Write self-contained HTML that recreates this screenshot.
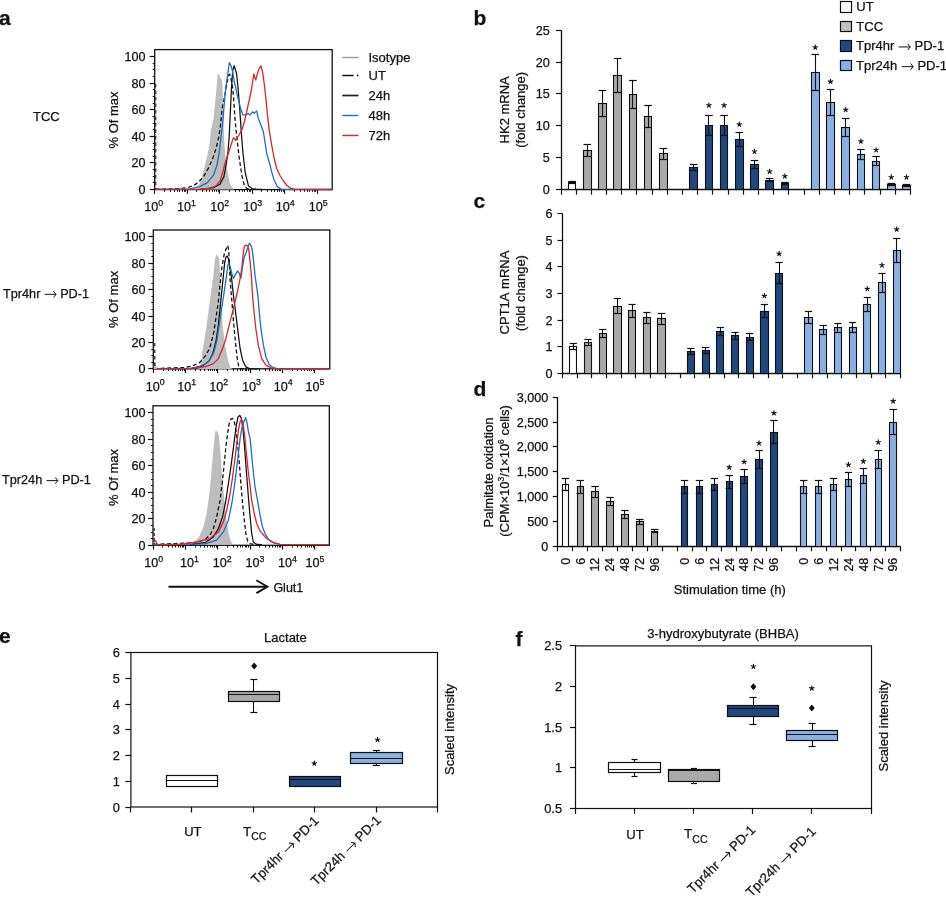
<!DOCTYPE html>
<html><head><meta charset="utf-8"><style>
html,body{margin:0;padding:0;background:#fff;width:946px;height:899px;overflow:hidden}
svg{display:block;will-change:transform}
text{font-family:"Liberation Sans", sans-serif;font-kerning:none;stroke:#111;stroke-width:0.25px;paint-order:stroke}
</style></head><body>
<svg width="946" height="899" viewBox="0 0 946 899" font-family='"Liberation Sans", sans-serif'>
<text x="-1.00" y="25.30" font-size="21" text-anchor="start" font-weight="bold" fill="#111">a</text>
<text x="473.50" y="25.30" font-size="21" text-anchor="start" font-weight="bold" fill="#111">b</text>
<text x="473.50" y="207.50" font-size="21" text-anchor="start" font-weight="bold" fill="#111">c</text>
<text x="473.50" y="396.30" font-size="21" text-anchor="start" font-weight="bold" fill="#111">d</text>
<text x="-1.00" y="643.30" font-size="21" text-anchor="start" font-weight="bold" fill="#111">e</text>
<text x="515.50" y="645.50" font-size="21" text-anchor="start" font-weight="bold" fill="#111">f</text>
<line x1="561.50" y1="30.10" x2="561.50" y2="190.20" stroke="#111" stroke-width="1.3"/>
<line x1="556.00" y1="189.50" x2="561.00" y2="189.50" stroke="#111" stroke-width="1.2"/>
<text x="549.80" y="194.10" font-size="12.6" text-anchor="end" fill="#111">0</text>
<line x1="556.00" y1="157.50" x2="561.00" y2="157.50" stroke="#111" stroke-width="1.2"/>
<text x="549.80" y="162.20" font-size="12.6" text-anchor="end" fill="#111">5</text>
<line x1="556.00" y1="125.50" x2="561.00" y2="125.50" stroke="#111" stroke-width="1.2"/>
<text x="549.80" y="130.30" font-size="12.6" text-anchor="end" fill="#111">10</text>
<line x1="556.00" y1="93.50" x2="561.00" y2="93.50" stroke="#111" stroke-width="1.2"/>
<text x="549.80" y="98.40" font-size="12.6" text-anchor="end" fill="#111">15</text>
<line x1="556.00" y1="62.50" x2="561.00" y2="62.50" stroke="#111" stroke-width="1.2"/>
<text x="549.80" y="66.50" font-size="12.6" text-anchor="end" fill="#111">20</text>
<line x1="556.00" y1="30.50" x2="561.00" y2="30.50" stroke="#111" stroke-width="1.2"/>
<text x="549.80" y="34.60" font-size="12.6" text-anchor="end" fill="#111">25</text>
<line x1="561.00" y1="189.50" x2="910.50" y2="189.50" stroke="#111" stroke-width="1.3"/>
<line x1="561.50" y1="189.60" x2="561.50" y2="194.60" stroke="#111" stroke-width="1.2"/>
<line x1="576.50" y1="189.60" x2="576.50" y2="194.60" stroke="#111" stroke-width="1.2"/>
<line x1="591.50" y1="189.60" x2="591.50" y2="194.60" stroke="#111" stroke-width="1.2"/>
<line x1="606.50" y1="189.60" x2="606.50" y2="194.60" stroke="#111" stroke-width="1.2"/>
<line x1="621.50" y1="189.60" x2="621.50" y2="194.60" stroke="#111" stroke-width="1.2"/>
<line x1="636.50" y1="189.60" x2="636.50" y2="194.60" stroke="#111" stroke-width="1.2"/>
<line x1="652.50" y1="189.60" x2="652.50" y2="194.60" stroke="#111" stroke-width="1.2"/>
<line x1="667.50" y1="189.60" x2="667.50" y2="194.60" stroke="#111" stroke-width="1.2"/>
<line x1="682.50" y1="189.60" x2="682.50" y2="194.60" stroke="#111" stroke-width="1.2"/>
<line x1="697.50" y1="189.60" x2="697.50" y2="194.60" stroke="#111" stroke-width="1.2"/>
<line x1="712.50" y1="189.60" x2="712.50" y2="194.60" stroke="#111" stroke-width="1.2"/>
<line x1="728.50" y1="189.60" x2="728.50" y2="194.60" stroke="#111" stroke-width="1.2"/>
<line x1="743.50" y1="189.60" x2="743.50" y2="194.60" stroke="#111" stroke-width="1.2"/>
<line x1="758.50" y1="189.60" x2="758.50" y2="194.60" stroke="#111" stroke-width="1.2"/>
<line x1="773.50" y1="189.60" x2="773.50" y2="194.60" stroke="#111" stroke-width="1.2"/>
<line x1="788.50" y1="189.60" x2="788.50" y2="194.60" stroke="#111" stroke-width="1.2"/>
<line x1="804.50" y1="189.60" x2="804.50" y2="194.60" stroke="#111" stroke-width="1.2"/>
<line x1="819.50" y1="189.60" x2="819.50" y2="194.60" stroke="#111" stroke-width="1.2"/>
<line x1="834.50" y1="189.60" x2="834.50" y2="194.60" stroke="#111" stroke-width="1.2"/>
<line x1="849.50" y1="189.60" x2="849.50" y2="194.60" stroke="#111" stroke-width="1.2"/>
<line x1="864.50" y1="189.60" x2="864.50" y2="194.60" stroke="#111" stroke-width="1.2"/>
<line x1="880.50" y1="189.60" x2="880.50" y2="194.60" stroke="#111" stroke-width="1.2"/>
<line x1="895.50" y1="189.60" x2="895.50" y2="194.60" stroke="#111" stroke-width="1.2"/>
<line x1="910.50" y1="189.60" x2="910.50" y2="194.60" stroke="#111" stroke-width="1.2"/>
<rect x="568.50" y="182.50" width="7.00" height="7.00" fill="#ffffff" stroke="#111" stroke-width="1.1"/>
<line x1="572.50" y1="181.60" x2="572.50" y2="183.60" stroke="#111" stroke-width="1.1"/>
<line x1="568.30" y1="181.50" x2="575.90" y2="181.50" stroke="#111" stroke-width="1.2"/>
<line x1="568.30" y1="183.50" x2="575.90" y2="183.50" stroke="#111" stroke-width="1.2"/>
<rect x="583.50" y="150.50" width="8.00" height="39.00" fill="#a9a9a9" stroke="#111" stroke-width="1.1"/>
<line x1="587.50" y1="144.40" x2="587.50" y2="156.60" stroke="#111" stroke-width="1.1"/>
<line x1="583.50" y1="144.50" x2="591.10" y2="144.50" stroke="#111" stroke-width="1.2"/>
<line x1="583.50" y1="156.50" x2="591.10" y2="156.50" stroke="#111" stroke-width="1.2"/>
<rect x="598.50" y="103.50" width="8.00" height="86.00" fill="#a9a9a9" stroke="#111" stroke-width="1.1"/>
<line x1="602.50" y1="90.20" x2="602.50" y2="116.40" stroke="#111" stroke-width="1.1"/>
<line x1="598.70" y1="90.50" x2="606.30" y2="90.50" stroke="#111" stroke-width="1.2"/>
<line x1="598.70" y1="116.50" x2="606.30" y2="116.50" stroke="#111" stroke-width="1.2"/>
<rect x="613.50" y="75.50" width="8.00" height="114.00" fill="#a9a9a9" stroke="#111" stroke-width="1.1"/>
<line x1="617.50" y1="58.50" x2="617.50" y2="92.50" stroke="#111" stroke-width="1.1"/>
<line x1="613.90" y1="58.50" x2="621.50" y2="58.50" stroke="#111" stroke-width="1.2"/>
<line x1="613.90" y1="92.50" x2="621.50" y2="92.50" stroke="#111" stroke-width="1.2"/>
<rect x="629.50" y="94.50" width="7.00" height="95.00" fill="#a9a9a9" stroke="#111" stroke-width="1.1"/>
<line x1="632.50" y1="80.20" x2="632.50" y2="108.20" stroke="#111" stroke-width="1.1"/>
<line x1="629.10" y1="80.50" x2="636.70" y2="80.50" stroke="#111" stroke-width="1.2"/>
<line x1="629.10" y1="108.50" x2="636.70" y2="108.50" stroke="#111" stroke-width="1.2"/>
<rect x="644.50" y="116.50" width="7.00" height="73.00" fill="#a9a9a9" stroke="#111" stroke-width="1.1"/>
<line x1="648.50" y1="105.30" x2="648.50" y2="127.30" stroke="#111" stroke-width="1.1"/>
<line x1="644.30" y1="105.50" x2="651.90" y2="105.50" stroke="#111" stroke-width="1.2"/>
<line x1="644.30" y1="127.50" x2="651.90" y2="127.50" stroke="#111" stroke-width="1.2"/>
<rect x="659.50" y="153.50" width="8.00" height="36.00" fill="#a9a9a9" stroke="#111" stroke-width="1.1"/>
<line x1="663.50" y1="148.70" x2="663.50" y2="159.10" stroke="#111" stroke-width="1.1"/>
<line x1="659.50" y1="148.50" x2="667.10" y2="148.50" stroke="#111" stroke-width="1.2"/>
<line x1="659.50" y1="159.50" x2="667.10" y2="159.50" stroke="#111" stroke-width="1.2"/>
<rect x="689.50" y="167.50" width="8.00" height="22.00" fill="#21477e" stroke="#111" stroke-width="1.1"/>
<line x1="693.50" y1="164.50" x2="693.50" y2="170.90" stroke="#111" stroke-width="1.1"/>
<line x1="689.90" y1="164.50" x2="697.50" y2="164.50" stroke="#111" stroke-width="1.2"/>
<line x1="689.90" y1="170.50" x2="697.50" y2="170.50" stroke="#111" stroke-width="1.2"/>
<rect x="705.50" y="125.50" width="7.00" height="64.00" fill="#21477e" stroke="#111" stroke-width="1.1"/>
<line x1="708.50" y1="115.50" x2="708.50" y2="135.30" stroke="#111" stroke-width="1.1"/>
<line x1="705.10" y1="115.50" x2="712.70" y2="115.50" stroke="#111" stroke-width="1.2"/>
<line x1="705.10" y1="135.50" x2="712.70" y2="135.50" stroke="#111" stroke-width="1.2"/>
<path d="M708.90,105.30L708.90,103.00M708.90,105.30L711.09,104.59M708.90,105.30L710.25,107.16M708.90,105.30L707.55,107.16M708.90,105.30L706.71,104.59" stroke="#111" stroke-width="1.15" stroke-linecap="round" fill="none"/>
<rect x="720.50" y="125.50" width="7.00" height="64.00" fill="#21477e" stroke="#111" stroke-width="1.1"/>
<line x1="724.50" y1="115.50" x2="724.50" y2="135.30" stroke="#111" stroke-width="1.1"/>
<line x1="720.30" y1="115.50" x2="727.90" y2="115.50" stroke="#111" stroke-width="1.2"/>
<line x1="720.30" y1="135.50" x2="727.90" y2="135.50" stroke="#111" stroke-width="1.2"/>
<path d="M724.10,105.30L724.10,103.00M724.10,105.30L726.29,104.59M724.10,105.30L725.45,107.16M724.10,105.30L722.75,107.16M724.10,105.30L721.91,104.59" stroke="#111" stroke-width="1.15" stroke-linecap="round" fill="none"/>
<rect x="735.50" y="139.50" width="8.00" height="50.00" fill="#21477e" stroke="#111" stroke-width="1.1"/>
<line x1="739.50" y1="132.40" x2="739.50" y2="146.40" stroke="#111" stroke-width="1.1"/>
<line x1="735.50" y1="132.50" x2="743.10" y2="132.50" stroke="#111" stroke-width="1.2"/>
<line x1="735.50" y1="146.50" x2="743.10" y2="146.50" stroke="#111" stroke-width="1.2"/>
<path d="M739.30,124.40L739.30,122.10M739.30,124.40L741.49,123.69M739.30,124.40L740.65,126.26M739.30,124.40L737.95,126.26M739.30,124.40L737.11,123.69" stroke="#111" stroke-width="1.15" stroke-linecap="round" fill="none"/>
<rect x="750.50" y="164.50" width="8.00" height="25.00" fill="#21477e" stroke="#111" stroke-width="1.1"/>
<line x1="754.50" y1="160.50" x2="754.50" y2="168.50" stroke="#111" stroke-width="1.1"/>
<line x1="750.70" y1="160.50" x2="758.30" y2="160.50" stroke="#111" stroke-width="1.2"/>
<line x1="750.70" y1="168.50" x2="758.30" y2="168.50" stroke="#111" stroke-width="1.2"/>
<path d="M754.50,151.50L754.50,149.20M754.50,151.50L756.69,150.79M754.50,151.50L755.85,153.36M754.50,151.50L753.15,153.36M754.50,151.50L752.31,150.79" stroke="#111" stroke-width="1.15" stroke-linecap="round" fill="none"/>
<rect x="765.50" y="180.50" width="8.00" height="9.00" fill="#21477e" stroke="#111" stroke-width="1.1"/>
<line x1="769.50" y1="178.50" x2="769.50" y2="181.90" stroke="#111" stroke-width="1.1"/>
<line x1="765.90" y1="178.50" x2="773.50" y2="178.50" stroke="#111" stroke-width="1.2"/>
<line x1="765.90" y1="181.50" x2="773.50" y2="181.50" stroke="#111" stroke-width="1.2"/>
<path d="M769.70,171.50L769.70,169.20M769.70,171.50L771.89,170.79M769.70,171.50L771.05,173.36M769.70,171.50L768.35,173.36M769.70,171.50L767.51,170.79" stroke="#111" stroke-width="1.15" stroke-linecap="round" fill="none"/>
<rect x="781.50" y="183.50" width="7.00" height="6.00" fill="#21477e" stroke="#111" stroke-width="1.1"/>
<line x1="784.50" y1="182.80" x2="784.50" y2="184.80" stroke="#111" stroke-width="1.1"/>
<line x1="781.10" y1="182.50" x2="788.70" y2="182.50" stroke="#111" stroke-width="1.2"/>
<line x1="781.10" y1="184.50" x2="788.70" y2="184.50" stroke="#111" stroke-width="1.2"/>
<path d="M784.90,176.20L784.90,173.90M784.90,176.20L787.09,175.49M784.90,176.20L786.25,178.06M784.90,176.20L783.55,178.06M784.90,176.20L782.71,175.49" stroke="#111" stroke-width="1.15" stroke-linecap="round" fill="none"/>
<rect x="811.50" y="72.50" width="8.00" height="117.00" fill="#8bb0e3" stroke="#111" stroke-width="1.1"/>
<line x1="815.50" y1="54.70" x2="815.50" y2="90.30" stroke="#111" stroke-width="1.1"/>
<line x1="811.50" y1="54.50" x2="819.10" y2="54.50" stroke="#111" stroke-width="1.2"/>
<line x1="811.50" y1="90.50" x2="819.10" y2="90.50" stroke="#111" stroke-width="1.2"/>
<path d="M815.30,47.40L815.30,45.10M815.30,47.40L817.49,46.69M815.30,47.40L816.65,49.26M815.30,47.40L813.95,49.26M815.30,47.40L813.11,46.69" stroke="#111" stroke-width="1.15" stroke-linecap="round" fill="none"/>
<rect x="826.50" y="102.50" width="8.00" height="87.00" fill="#8bb0e3" stroke="#111" stroke-width="1.1"/>
<line x1="830.50" y1="89.20" x2="830.50" y2="115.40" stroke="#111" stroke-width="1.1"/>
<line x1="826.70" y1="89.50" x2="834.30" y2="89.50" stroke="#111" stroke-width="1.2"/>
<line x1="826.70" y1="115.50" x2="834.30" y2="115.50" stroke="#111" stroke-width="1.2"/>
<path d="M830.50,81.60L830.50,79.30M830.50,81.60L832.69,80.89M830.50,81.60L831.85,83.46M830.50,81.60L829.15,83.46M830.50,81.60L828.31,80.89" stroke="#111" stroke-width="1.15" stroke-linecap="round" fill="none"/>
<rect x="841.50" y="127.50" width="8.00" height="62.00" fill="#8bb0e3" stroke="#111" stroke-width="1.1"/>
<line x1="845.50" y1="118.30" x2="845.50" y2="136.90" stroke="#111" stroke-width="1.1"/>
<line x1="841.90" y1="118.50" x2="849.50" y2="118.50" stroke="#111" stroke-width="1.2"/>
<line x1="841.90" y1="136.50" x2="849.50" y2="136.50" stroke="#111" stroke-width="1.2"/>
<path d="M845.70,109.70L845.70,107.40M845.70,109.70L847.89,108.99M845.70,109.70L847.05,111.56M845.70,109.70L844.35,111.56M845.70,109.70L843.51,108.99" stroke="#111" stroke-width="1.15" stroke-linecap="round" fill="none"/>
<rect x="857.50" y="154.50" width="7.00" height="35.00" fill="#8bb0e3" stroke="#111" stroke-width="1.1"/>
<line x1="860.50" y1="149.50" x2="860.50" y2="159.50" stroke="#111" stroke-width="1.1"/>
<line x1="857.10" y1="149.50" x2="864.70" y2="149.50" stroke="#111" stroke-width="1.2"/>
<line x1="857.10" y1="159.50" x2="864.70" y2="159.50" stroke="#111" stroke-width="1.2"/>
<path d="M860.90,141.40L860.90,139.10M860.90,141.40L863.09,140.69M860.90,141.40L862.25,143.26M860.90,141.40L859.55,143.26M860.90,141.40L858.71,140.69" stroke="#111" stroke-width="1.15" stroke-linecap="round" fill="none"/>
<rect x="872.50" y="161.50" width="7.00" height="28.00" fill="#8bb0e3" stroke="#111" stroke-width="1.1"/>
<line x1="876.50" y1="156.50" x2="876.50" y2="165.70" stroke="#111" stroke-width="1.1"/>
<line x1="872.30" y1="156.50" x2="879.90" y2="156.50" stroke="#111" stroke-width="1.2"/>
<line x1="872.30" y1="165.50" x2="879.90" y2="165.50" stroke="#111" stroke-width="1.2"/>
<path d="M876.10,150.00L876.10,147.70M876.10,150.00L878.29,149.29M876.10,150.00L877.45,151.86M876.10,150.00L874.75,151.86M876.10,150.00L873.91,149.29" stroke="#111" stroke-width="1.15" stroke-linecap="round" fill="none"/>
<rect x="887.50" y="184.50" width="8.00" height="5.00" fill="#8bb0e3" stroke="#111" stroke-width="1.1"/>
<line x1="891.50" y1="183.60" x2="891.50" y2="185.60" stroke="#111" stroke-width="1.1"/>
<line x1="887.50" y1="183.50" x2="895.10" y2="183.50" stroke="#111" stroke-width="1.2"/>
<line x1="887.50" y1="185.50" x2="895.10" y2="185.50" stroke="#111" stroke-width="1.2"/>
<path d="M891.30,177.20L891.30,174.90M891.30,177.20L893.49,176.49M891.30,177.20L892.65,179.06M891.30,177.20L889.95,179.06M891.30,177.20L889.11,176.49" stroke="#111" stroke-width="1.15" stroke-linecap="round" fill="none"/>
<rect x="902.50" y="185.50" width="8.00" height="4.00" fill="#8bb0e3" stroke="#111" stroke-width="1.1"/>
<line x1="906.50" y1="184.60" x2="906.50" y2="186.60" stroke="#111" stroke-width="1.1"/>
<line x1="902.70" y1="184.50" x2="910.30" y2="184.50" stroke="#111" stroke-width="1.2"/>
<line x1="902.70" y1="186.50" x2="910.30" y2="186.50" stroke="#111" stroke-width="1.2"/>
<path d="M906.50,177.20L906.50,174.90M906.50,177.20L908.69,176.49M906.50,177.20L907.85,179.06M906.50,177.20L905.15,179.06M906.50,177.20L904.31,176.49" stroke="#111" stroke-width="1.15" stroke-linecap="round" fill="none"/>
<text transform="translate(508.6,109.8) rotate(-90)" font-size="13" text-anchor="middle" fill="#111">HK2 mRNA</text>
<text transform="translate(524.6,109.8) rotate(-90)" font-size="13" text-anchor="middle" fill="#111">(fold change)</text>
<rect x="840.50" y="1.50" width="11.00" height="11.00" fill="#ffffff" stroke="#111" stroke-width="1.2"/>
<text x="856.30" y="11.20" font-size="13" text-anchor="start" fill="#111">UT</text>
<rect x="840.50" y="21.50" width="11.00" height="10.00" fill="#c0c0c0" stroke="#111" stroke-width="1.2"/>
<text x="856.30" y="30.80" font-size="13" text-anchor="start" fill="#111">TCC</text>
<rect x="840.50" y="40.50" width="11.00" height="11.00" fill="#21477e" stroke="#111" stroke-width="1.2"/>
<g transform="translate(856.00,50.20)"><text x="0.00" y="0" font-size="13" fill="#111">Tpr4hr</text><path d="M42.72,-3.25H54.25M51.65,-6.44L54.25,-3.25L51.65,-0.06" fill="none" stroke="#111" stroke-width="1.0"/><text x="58.51" y="0" font-size="13" fill="#111">PD-1</text></g>
<rect x="840.50" y="60.50" width="11.00" height="10.00" fill="#8bb0e3" stroke="#111" stroke-width="1.2"/>
<g transform="translate(856.00,69.90)"><text x="0.00" y="0" font-size="13" fill="#111">Tpr24h</text><path d="M45.62,-3.25H57.15M54.55,-6.44L57.15,-3.25L54.55,-0.06" fill="none" stroke="#111" stroke-width="1.0"/><text x="61.41" y="0" font-size="13" fill="#111">PD-1</text></g>
<line x1="562.50" y1="213.60" x2="562.50" y2="373.80" stroke="#111" stroke-width="1.3"/>
<line x1="557.50" y1="373.50" x2="562.50" y2="373.50" stroke="#111" stroke-width="1.2"/>
<text x="552.60" y="377.70" font-size="12.6" text-anchor="end" fill="#111">0</text>
<line x1="557.50" y1="346.50" x2="562.50" y2="346.50" stroke="#111" stroke-width="1.2"/>
<text x="552.60" y="351.10" font-size="12.6" text-anchor="end" fill="#111">1</text>
<line x1="557.50" y1="320.50" x2="562.50" y2="320.50" stroke="#111" stroke-width="1.2"/>
<text x="552.60" y="324.50" font-size="12.6" text-anchor="end" fill="#111">2</text>
<line x1="557.50" y1="293.50" x2="562.50" y2="293.50" stroke="#111" stroke-width="1.2"/>
<text x="552.60" y="297.90" font-size="12.6" text-anchor="end" fill="#111">3</text>
<line x1="557.50" y1="266.50" x2="562.50" y2="266.50" stroke="#111" stroke-width="1.2"/>
<text x="552.60" y="271.30" font-size="12.6" text-anchor="end" fill="#111">4</text>
<line x1="557.50" y1="240.50" x2="562.50" y2="240.50" stroke="#111" stroke-width="1.2"/>
<text x="552.60" y="244.70" font-size="12.6" text-anchor="end" fill="#111">5</text>
<line x1="557.50" y1="213.50" x2="562.50" y2="213.50" stroke="#111" stroke-width="1.2"/>
<text x="552.60" y="218.10" font-size="12.6" text-anchor="end" fill="#111">6</text>
<line x1="562.50" y1="373.50" x2="900.50" y2="373.50" stroke="#111" stroke-width="1.3"/>
<line x1="562.50" y1="373.20" x2="562.50" y2="378.20" stroke="#111" stroke-width="1.2"/>
<line x1="577.50" y1="373.20" x2="577.50" y2="378.20" stroke="#111" stroke-width="1.2"/>
<line x1="591.50" y1="373.20" x2="591.50" y2="378.20" stroke="#111" stroke-width="1.2"/>
<line x1="606.50" y1="373.20" x2="606.50" y2="378.20" stroke="#111" stroke-width="1.2"/>
<line x1="621.50" y1="373.20" x2="621.50" y2="378.20" stroke="#111" stroke-width="1.2"/>
<line x1="635.50" y1="373.20" x2="635.50" y2="378.20" stroke="#111" stroke-width="1.2"/>
<line x1="650.50" y1="373.20" x2="650.50" y2="378.20" stroke="#111" stroke-width="1.2"/>
<line x1="665.50" y1="373.20" x2="665.50" y2="378.20" stroke="#111" stroke-width="1.2"/>
<line x1="680.50" y1="373.20" x2="680.50" y2="378.20" stroke="#111" stroke-width="1.2"/>
<line x1="694.50" y1="373.20" x2="694.50" y2="378.20" stroke="#111" stroke-width="1.2"/>
<line x1="709.50" y1="373.20" x2="709.50" y2="378.20" stroke="#111" stroke-width="1.2"/>
<line x1="724.50" y1="373.20" x2="724.50" y2="378.20" stroke="#111" stroke-width="1.2"/>
<line x1="738.50" y1="373.20" x2="738.50" y2="378.20" stroke="#111" stroke-width="1.2"/>
<line x1="753.50" y1="373.20" x2="753.50" y2="378.20" stroke="#111" stroke-width="1.2"/>
<line x1="768.50" y1="373.20" x2="768.50" y2="378.20" stroke="#111" stroke-width="1.2"/>
<line x1="782.50" y1="373.20" x2="782.50" y2="378.20" stroke="#111" stroke-width="1.2"/>
<line x1="797.50" y1="373.20" x2="797.50" y2="378.20" stroke="#111" stroke-width="1.2"/>
<line x1="812.50" y1="373.20" x2="812.50" y2="378.20" stroke="#111" stroke-width="1.2"/>
<line x1="827.50" y1="373.20" x2="827.50" y2="378.20" stroke="#111" stroke-width="1.2"/>
<line x1="841.50" y1="373.20" x2="841.50" y2="378.20" stroke="#111" stroke-width="1.2"/>
<line x1="856.50" y1="373.20" x2="856.50" y2="378.20" stroke="#111" stroke-width="1.2"/>
<line x1="871.50" y1="373.20" x2="871.50" y2="378.20" stroke="#111" stroke-width="1.2"/>
<line x1="885.50" y1="373.20" x2="885.50" y2="378.20" stroke="#111" stroke-width="1.2"/>
<line x1="900.50" y1="373.20" x2="900.50" y2="378.20" stroke="#111" stroke-width="1.2"/>
<rect x="569.50" y="346.50" width="7.00" height="27.00" fill="#ffffff" stroke="#111" stroke-width="1.1"/>
<line x1="573.50" y1="343.90" x2="573.50" y2="349.10" stroke="#111" stroke-width="1.1"/>
<line x1="569.70" y1="343.50" x2="576.90" y2="343.50" stroke="#111" stroke-width="1.2"/>
<line x1="569.70" y1="349.50" x2="576.90" y2="349.50" stroke="#111" stroke-width="1.2"/>
<rect x="584.50" y="342.50" width="7.00" height="31.00" fill="#a9a9a9" stroke="#111" stroke-width="1.1"/>
<line x1="588.50" y1="339.90" x2="588.50" y2="345.90" stroke="#111" stroke-width="1.1"/>
<line x1="584.40" y1="339.50" x2="591.60" y2="339.50" stroke="#111" stroke-width="1.2"/>
<line x1="584.40" y1="345.50" x2="591.60" y2="345.50" stroke="#111" stroke-width="1.2"/>
<rect x="599.50" y="333.50" width="7.00" height="40.00" fill="#a9a9a9" stroke="#111" stroke-width="1.1"/>
<line x1="602.50" y1="329.10" x2="602.50" y2="337.10" stroke="#111" stroke-width="1.1"/>
<line x1="599.10" y1="329.50" x2="606.30" y2="329.50" stroke="#111" stroke-width="1.2"/>
<line x1="599.10" y1="337.50" x2="606.30" y2="337.50" stroke="#111" stroke-width="1.2"/>
<rect x="613.50" y="306.50" width="8.00" height="67.00" fill="#a9a9a9" stroke="#111" stroke-width="1.1"/>
<line x1="617.50" y1="298.90" x2="617.50" y2="313.10" stroke="#111" stroke-width="1.1"/>
<line x1="613.80" y1="298.50" x2="621.00" y2="298.50" stroke="#111" stroke-width="1.2"/>
<line x1="613.80" y1="313.50" x2="621.00" y2="313.50" stroke="#111" stroke-width="1.2"/>
<rect x="628.50" y="310.50" width="7.00" height="63.00" fill="#a9a9a9" stroke="#111" stroke-width="1.1"/>
<line x1="632.50" y1="304.60" x2="632.50" y2="317.00" stroke="#111" stroke-width="1.1"/>
<line x1="628.50" y1="304.50" x2="635.70" y2="304.50" stroke="#111" stroke-width="1.2"/>
<line x1="628.50" y1="317.50" x2="635.70" y2="317.50" stroke="#111" stroke-width="1.2"/>
<rect x="643.50" y="317.50" width="7.00" height="56.00" fill="#a9a9a9" stroke="#111" stroke-width="1.1"/>
<line x1="646.50" y1="312.40" x2="646.50" y2="323.20" stroke="#111" stroke-width="1.1"/>
<line x1="643.20" y1="312.50" x2="650.40" y2="312.50" stroke="#111" stroke-width="1.2"/>
<line x1="643.20" y1="323.50" x2="650.40" y2="323.50" stroke="#111" stroke-width="1.2"/>
<rect x="657.50" y="318.50" width="8.00" height="55.00" fill="#a9a9a9" stroke="#111" stroke-width="1.1"/>
<line x1="661.50" y1="313.40" x2="661.50" y2="324.20" stroke="#111" stroke-width="1.1"/>
<line x1="657.90" y1="313.50" x2="665.10" y2="313.50" stroke="#111" stroke-width="1.2"/>
<line x1="657.90" y1="324.50" x2="665.10" y2="324.50" stroke="#111" stroke-width="1.2"/>
<rect x="687.50" y="351.50" width="7.00" height="22.00" fill="#21477e" stroke="#111" stroke-width="1.1"/>
<line x1="690.50" y1="348.90" x2="690.50" y2="354.30" stroke="#111" stroke-width="1.1"/>
<line x1="687.30" y1="348.50" x2="694.50" y2="348.50" stroke="#111" stroke-width="1.2"/>
<line x1="687.30" y1="354.50" x2="694.50" y2="354.50" stroke="#111" stroke-width="1.2"/>
<rect x="702.50" y="350.50" width="7.00" height="23.00" fill="#21477e" stroke="#111" stroke-width="1.1"/>
<line x1="705.50" y1="347.90" x2="705.50" y2="353.10" stroke="#111" stroke-width="1.1"/>
<line x1="702.00" y1="347.50" x2="709.20" y2="347.50" stroke="#111" stroke-width="1.2"/>
<line x1="702.00" y1="353.50" x2="709.20" y2="353.50" stroke="#111" stroke-width="1.2"/>
<rect x="716.50" y="331.50" width="7.00" height="42.00" fill="#21477e" stroke="#111" stroke-width="1.1"/>
<line x1="720.50" y1="327.00" x2="720.50" y2="335.20" stroke="#111" stroke-width="1.1"/>
<line x1="716.70" y1="327.50" x2="723.90" y2="327.50" stroke="#111" stroke-width="1.2"/>
<line x1="716.70" y1="335.50" x2="723.90" y2="335.50" stroke="#111" stroke-width="1.2"/>
<rect x="731.50" y="335.50" width="7.00" height="38.00" fill="#21477e" stroke="#111" stroke-width="1.1"/>
<line x1="735.50" y1="332.10" x2="735.50" y2="339.70" stroke="#111" stroke-width="1.1"/>
<line x1="731.40" y1="332.50" x2="738.60" y2="332.50" stroke="#111" stroke-width="1.2"/>
<line x1="731.40" y1="339.50" x2="738.60" y2="339.50" stroke="#111" stroke-width="1.2"/>
<rect x="746.50" y="337.50" width="7.00" height="36.00" fill="#21477e" stroke="#111" stroke-width="1.1"/>
<line x1="749.50" y1="333.50" x2="749.50" y2="340.70" stroke="#111" stroke-width="1.1"/>
<line x1="746.10" y1="333.50" x2="753.30" y2="333.50" stroke="#111" stroke-width="1.2"/>
<line x1="746.10" y1="340.50" x2="753.30" y2="340.50" stroke="#111" stroke-width="1.2"/>
<rect x="760.50" y="311.50" width="8.00" height="62.00" fill="#21477e" stroke="#111" stroke-width="1.1"/>
<line x1="764.50" y1="304.80" x2="764.50" y2="318.00" stroke="#111" stroke-width="1.1"/>
<line x1="760.80" y1="304.50" x2="768.00" y2="304.50" stroke="#111" stroke-width="1.2"/>
<line x1="760.80" y1="317.50" x2="768.00" y2="317.50" stroke="#111" stroke-width="1.2"/>
<path d="M764.40,295.90L764.40,293.60M764.40,295.90L766.59,295.19M764.40,295.90L765.75,297.76M764.40,295.90L763.05,297.76M764.40,295.90L762.21,295.19" stroke="#111" stroke-width="1.15" stroke-linecap="round" fill="none"/>
<rect x="775.50" y="273.50" width="7.00" height="100.00" fill="#21477e" stroke="#111" stroke-width="1.1"/>
<line x1="779.50" y1="262.80" x2="779.50" y2="283.60" stroke="#111" stroke-width="1.1"/>
<line x1="775.50" y1="262.50" x2="782.70" y2="262.50" stroke="#111" stroke-width="1.2"/>
<line x1="775.50" y1="283.50" x2="782.70" y2="283.50" stroke="#111" stroke-width="1.2"/>
<path d="M779.10,253.70L779.10,251.40M779.10,253.70L781.29,252.99M779.10,253.70L780.45,255.56M779.10,253.70L777.75,255.56M779.10,253.70L776.91,252.99" stroke="#111" stroke-width="1.15" stroke-linecap="round" fill="none"/>
<rect x="804.50" y="317.50" width="8.00" height="56.00" fill="#8bb0e3" stroke="#111" stroke-width="1.1"/>
<line x1="808.50" y1="311.80" x2="808.50" y2="323.80" stroke="#111" stroke-width="1.1"/>
<line x1="804.90" y1="311.50" x2="812.10" y2="311.50" stroke="#111" stroke-width="1.2"/>
<line x1="804.90" y1="323.50" x2="812.10" y2="323.50" stroke="#111" stroke-width="1.2"/>
<rect x="819.50" y="329.50" width="7.00" height="44.00" fill="#8bb0e3" stroke="#111" stroke-width="1.1"/>
<line x1="823.50" y1="325.00" x2="823.50" y2="334.40" stroke="#111" stroke-width="1.1"/>
<line x1="819.60" y1="325.50" x2="826.80" y2="325.50" stroke="#111" stroke-width="1.2"/>
<line x1="819.60" y1="334.50" x2="826.80" y2="334.50" stroke="#111" stroke-width="1.2"/>
<rect x="834.50" y="327.50" width="7.00" height="46.00" fill="#8bb0e3" stroke="#111" stroke-width="1.1"/>
<line x1="837.50" y1="323.40" x2="837.50" y2="332.40" stroke="#111" stroke-width="1.1"/>
<line x1="834.30" y1="323.50" x2="841.50" y2="323.50" stroke="#111" stroke-width="1.2"/>
<line x1="834.30" y1="332.50" x2="841.50" y2="332.50" stroke="#111" stroke-width="1.2"/>
<rect x="849.50" y="327.50" width="7.00" height="46.00" fill="#8bb0e3" stroke="#111" stroke-width="1.1"/>
<line x1="852.50" y1="322.80" x2="852.50" y2="333.00" stroke="#111" stroke-width="1.1"/>
<line x1="849.00" y1="322.50" x2="856.20" y2="322.50" stroke="#111" stroke-width="1.2"/>
<line x1="849.00" y1="332.50" x2="856.20" y2="332.50" stroke="#111" stroke-width="1.2"/>
<rect x="863.50" y="304.50" width="7.00" height="69.00" fill="#8bb0e3" stroke="#111" stroke-width="1.1"/>
<line x1="867.50" y1="297.70" x2="867.50" y2="311.90" stroke="#111" stroke-width="1.1"/>
<line x1="863.70" y1="297.50" x2="870.90" y2="297.50" stroke="#111" stroke-width="1.2"/>
<line x1="863.70" y1="311.50" x2="870.90" y2="311.50" stroke="#111" stroke-width="1.2"/>
<path d="M867.30,288.90L867.30,286.60M867.30,288.90L869.49,288.19M867.30,288.90L868.65,290.76M867.30,288.90L865.95,290.76M867.30,288.90L865.11,288.19" stroke="#111" stroke-width="1.15" stroke-linecap="round" fill="none"/>
<rect x="878.50" y="282.50" width="7.00" height="91.00" fill="#8bb0e3" stroke="#111" stroke-width="1.1"/>
<line x1="882.50" y1="273.20" x2="882.50" y2="292.20" stroke="#111" stroke-width="1.1"/>
<line x1="878.40" y1="273.50" x2="885.60" y2="273.50" stroke="#111" stroke-width="1.2"/>
<line x1="878.40" y1="292.50" x2="885.60" y2="292.50" stroke="#111" stroke-width="1.2"/>
<path d="M882.00,265.20L882.00,262.90M882.00,265.20L884.19,264.49M882.00,265.20L883.35,267.06M882.00,265.20L880.65,267.06M882.00,265.20L879.81,264.49" stroke="#111" stroke-width="1.15" stroke-linecap="round" fill="none"/>
<rect x="893.50" y="250.50" width="7.00" height="123.00" fill="#8bb0e3" stroke="#111" stroke-width="1.1"/>
<line x1="896.50" y1="238.50" x2="896.50" y2="262.90" stroke="#111" stroke-width="1.1"/>
<line x1="893.10" y1="238.50" x2="900.30" y2="238.50" stroke="#111" stroke-width="1.2"/>
<line x1="893.10" y1="262.50" x2="900.30" y2="262.50" stroke="#111" stroke-width="1.2"/>
<path d="M896.70,229.40L896.70,227.10M896.70,229.40L898.89,228.69M896.70,229.40L898.05,231.26M896.70,229.40L895.35,231.26M896.70,229.40L894.51,228.69" stroke="#111" stroke-width="1.15" stroke-linecap="round" fill="none"/>
<text transform="translate(508.6,292.5) rotate(-90)" font-size="13" text-anchor="middle" fill="#111">CPT1A mRNA</text>
<text transform="translate(524.6,293) rotate(-90)" font-size="13" text-anchor="middle" fill="#111">(fold change)</text>
<line x1="557.50" y1="397.20" x2="557.50" y2="546.90" stroke="#111" stroke-width="1.3"/>
<line x1="552.70" y1="546.50" x2="557.70" y2="546.50" stroke="#111" stroke-width="1.2"/>
<text x="548.30" y="550.80" font-size="12.6" text-anchor="end" fill="#111">0</text>
<line x1="552.70" y1="521.50" x2="557.70" y2="521.50" stroke="#111" stroke-width="1.2"/>
<text x="548.30" y="525.95" font-size="12.6" text-anchor="end" fill="#111">500</text>
<line x1="552.70" y1="496.50" x2="557.70" y2="496.50" stroke="#111" stroke-width="1.2"/>
<text x="548.30" y="501.10" font-size="12.6" text-anchor="end" fill="#111">1,000</text>
<line x1="552.70" y1="471.50" x2="557.70" y2="471.50" stroke="#111" stroke-width="1.2"/>
<text x="548.30" y="476.25" font-size="12.6" text-anchor="end" fill="#111">1,500</text>
<line x1="552.70" y1="446.50" x2="557.70" y2="446.50" stroke="#111" stroke-width="1.2"/>
<text x="548.30" y="451.40" font-size="12.6" text-anchor="end" fill="#111">2,000</text>
<line x1="552.70" y1="422.50" x2="557.70" y2="422.50" stroke="#111" stroke-width="1.2"/>
<text x="548.30" y="426.55" font-size="12.6" text-anchor="end" fill="#111">2,500</text>
<line x1="552.70" y1="397.50" x2="557.70" y2="397.50" stroke="#111" stroke-width="1.2"/>
<text x="548.30" y="401.70" font-size="12.6" text-anchor="end" fill="#111">3,000</text>
<line x1="557.70" y1="546.50" x2="900.60" y2="546.50" stroke="#111" stroke-width="1.3"/>
<line x1="557.50" y1="546.30" x2="557.50" y2="551.30" stroke="#111" stroke-width="1.2"/>
<line x1="572.50" y1="546.30" x2="572.50" y2="551.30" stroke="#111" stroke-width="1.2"/>
<line x1="587.50" y1="546.30" x2="587.50" y2="551.30" stroke="#111" stroke-width="1.2"/>
<line x1="602.50" y1="546.30" x2="602.50" y2="551.30" stroke="#111" stroke-width="1.2"/>
<line x1="617.50" y1="546.30" x2="617.50" y2="551.30" stroke="#111" stroke-width="1.2"/>
<line x1="632.50" y1="546.30" x2="632.50" y2="551.30" stroke="#111" stroke-width="1.2"/>
<line x1="647.50" y1="546.30" x2="647.50" y2="551.30" stroke="#111" stroke-width="1.2"/>
<line x1="662.50" y1="546.30" x2="662.50" y2="551.30" stroke="#111" stroke-width="1.2"/>
<line x1="677.50" y1="546.30" x2="677.50" y2="551.30" stroke="#111" stroke-width="1.2"/>
<line x1="692.50" y1="546.30" x2="692.50" y2="551.30" stroke="#111" stroke-width="1.2"/>
<line x1="706.50" y1="546.30" x2="706.50" y2="551.30" stroke="#111" stroke-width="1.2"/>
<line x1="721.50" y1="546.30" x2="721.50" y2="551.30" stroke="#111" stroke-width="1.2"/>
<line x1="736.50" y1="546.30" x2="736.50" y2="551.30" stroke="#111" stroke-width="1.2"/>
<line x1="751.50" y1="546.30" x2="751.50" y2="551.30" stroke="#111" stroke-width="1.2"/>
<line x1="766.50" y1="546.30" x2="766.50" y2="551.30" stroke="#111" stroke-width="1.2"/>
<line x1="781.50" y1="546.30" x2="781.50" y2="551.30" stroke="#111" stroke-width="1.2"/>
<line x1="796.50" y1="546.30" x2="796.50" y2="551.30" stroke="#111" stroke-width="1.2"/>
<line x1="811.50" y1="546.30" x2="811.50" y2="551.30" stroke="#111" stroke-width="1.2"/>
<line x1="826.50" y1="546.30" x2="826.50" y2="551.30" stroke="#111" stroke-width="1.2"/>
<line x1="841.50" y1="546.30" x2="841.50" y2="551.30" stroke="#111" stroke-width="1.2"/>
<line x1="855.50" y1="546.30" x2="855.50" y2="551.30" stroke="#111" stroke-width="1.2"/>
<line x1="870.50" y1="546.30" x2="870.50" y2="551.30" stroke="#111" stroke-width="1.2"/>
<line x1="885.50" y1="546.30" x2="885.50" y2="551.30" stroke="#111" stroke-width="1.2"/>
<line x1="900.50" y1="546.30" x2="900.50" y2="551.30" stroke="#111" stroke-width="1.2"/>
<rect x="562.50" y="484.50" width="6.00" height="62.00" fill="#ffffff" stroke="#111" stroke-width="1.1"/>
<line x1="565.50" y1="478.00" x2="565.50" y2="490.80" stroke="#111" stroke-width="1.1"/>
<line x1="561.65" y1="478.50" x2="569.05" y2="478.50" stroke="#111" stroke-width="1.2"/>
<line x1="561.65" y1="490.50" x2="569.05" y2="490.50" stroke="#111" stroke-width="1.2"/>
<rect x="577.50" y="486.50" width="6.00" height="60.00" fill="#a9a9a9" stroke="#111" stroke-width="1.1"/>
<line x1="580.50" y1="480.60" x2="580.50" y2="493.00" stroke="#111" stroke-width="1.1"/>
<line x1="576.55" y1="480.50" x2="583.95" y2="480.50" stroke="#111" stroke-width="1.2"/>
<line x1="576.55" y1="493.50" x2="583.95" y2="493.50" stroke="#111" stroke-width="1.2"/>
<rect x="591.50" y="491.50" width="7.00" height="55.00" fill="#a9a9a9" stroke="#111" stroke-width="1.1"/>
<line x1="595.50" y1="486.40" x2="595.50" y2="497.20" stroke="#111" stroke-width="1.1"/>
<line x1="591.45" y1="486.50" x2="598.85" y2="486.50" stroke="#111" stroke-width="1.2"/>
<line x1="591.45" y1="497.50" x2="598.85" y2="497.50" stroke="#111" stroke-width="1.2"/>
<rect x="606.50" y="501.50" width="7.00" height="45.00" fill="#a9a9a9" stroke="#111" stroke-width="1.1"/>
<line x1="610.50" y1="497.10" x2="610.50" y2="505.90" stroke="#111" stroke-width="1.1"/>
<line x1="606.35" y1="497.50" x2="613.75" y2="497.50" stroke="#111" stroke-width="1.2"/>
<line x1="606.35" y1="505.50" x2="613.75" y2="505.50" stroke="#111" stroke-width="1.2"/>
<rect x="621.50" y="514.50" width="7.00" height="32.00" fill="#a9a9a9" stroke="#111" stroke-width="1.1"/>
<line x1="624.50" y1="510.90" x2="624.50" y2="518.10" stroke="#111" stroke-width="1.1"/>
<line x1="621.25" y1="510.50" x2="628.65" y2="510.50" stroke="#111" stroke-width="1.2"/>
<line x1="621.25" y1="518.50" x2="628.65" y2="518.50" stroke="#111" stroke-width="1.2"/>
<rect x="636.50" y="521.50" width="7.00" height="25.00" fill="#a9a9a9" stroke="#111" stroke-width="1.1"/>
<line x1="639.50" y1="519.00" x2="639.50" y2="524.20" stroke="#111" stroke-width="1.1"/>
<line x1="636.15" y1="519.50" x2="643.55" y2="519.50" stroke="#111" stroke-width="1.2"/>
<line x1="636.15" y1="524.50" x2="643.55" y2="524.50" stroke="#111" stroke-width="1.2"/>
<rect x="651.50" y="531.50" width="6.00" height="15.00" fill="#a9a9a9" stroke="#111" stroke-width="1.1"/>
<line x1="654.50" y1="529.60" x2="654.50" y2="532.40" stroke="#111" stroke-width="1.1"/>
<line x1="651.05" y1="529.50" x2="658.45" y2="529.50" stroke="#111" stroke-width="1.2"/>
<line x1="651.05" y1="532.50" x2="658.45" y2="532.50" stroke="#111" stroke-width="1.2"/>
<rect x="681.50" y="486.50" width="6.00" height="60.00" fill="#21477e" stroke="#111" stroke-width="1.1"/>
<line x1="684.50" y1="480.60" x2="684.50" y2="493.00" stroke="#111" stroke-width="1.1"/>
<line x1="680.85" y1="480.50" x2="688.25" y2="480.50" stroke="#111" stroke-width="1.2"/>
<line x1="680.85" y1="493.50" x2="688.25" y2="493.50" stroke="#111" stroke-width="1.2"/>
<rect x="696.50" y="486.50" width="6.00" height="60.00" fill="#21477e" stroke="#111" stroke-width="1.1"/>
<line x1="699.50" y1="480.60" x2="699.50" y2="493.00" stroke="#111" stroke-width="1.1"/>
<line x1="695.75" y1="480.50" x2="703.15" y2="480.50" stroke="#111" stroke-width="1.2"/>
<line x1="695.75" y1="493.50" x2="703.15" y2="493.50" stroke="#111" stroke-width="1.2"/>
<rect x="711.50" y="484.50" width="6.00" height="62.00" fill="#21477e" stroke="#111" stroke-width="1.1"/>
<line x1="714.50" y1="478.00" x2="714.50" y2="490.00" stroke="#111" stroke-width="1.1"/>
<line x1="710.65" y1="478.50" x2="718.05" y2="478.50" stroke="#111" stroke-width="1.2"/>
<line x1="710.65" y1="490.50" x2="718.05" y2="490.50" stroke="#111" stroke-width="1.2"/>
<rect x="726.50" y="481.50" width="6.00" height="65.00" fill="#21477e" stroke="#111" stroke-width="1.1"/>
<line x1="729.50" y1="475.40" x2="729.50" y2="488.20" stroke="#111" stroke-width="1.1"/>
<line x1="725.55" y1="475.50" x2="732.95" y2="475.50" stroke="#111" stroke-width="1.2"/>
<line x1="725.55" y1="488.50" x2="732.95" y2="488.50" stroke="#111" stroke-width="1.2"/>
<path d="M729.25,467.30L729.25,465.00M729.25,467.30L731.44,466.59M729.25,467.30L730.60,469.16M729.25,467.30L727.90,469.16M729.25,467.30L727.06,466.59" stroke="#111" stroke-width="1.15" stroke-linecap="round" fill="none"/>
<rect x="740.50" y="476.50" width="7.00" height="70.00" fill="#21477e" stroke="#111" stroke-width="1.1"/>
<line x1="744.50" y1="469.80" x2="744.50" y2="483.80" stroke="#111" stroke-width="1.1"/>
<line x1="740.45" y1="469.50" x2="747.85" y2="469.50" stroke="#111" stroke-width="1.2"/>
<line x1="740.45" y1="483.50" x2="747.85" y2="483.50" stroke="#111" stroke-width="1.2"/>
<path d="M744.15,461.90L744.15,459.60M744.15,461.90L746.34,461.19M744.15,461.90L745.50,463.76M744.15,461.90L742.80,463.76M744.15,461.90L741.96,461.19" stroke="#111" stroke-width="1.15" stroke-linecap="round" fill="none"/>
<rect x="755.50" y="459.50" width="7.00" height="87.00" fill="#21477e" stroke="#111" stroke-width="1.1"/>
<line x1="759.50" y1="450.90" x2="759.50" y2="468.90" stroke="#111" stroke-width="1.1"/>
<line x1="755.35" y1="450.50" x2="762.75" y2="450.50" stroke="#111" stroke-width="1.2"/>
<line x1="755.35" y1="468.50" x2="762.75" y2="468.50" stroke="#111" stroke-width="1.2"/>
<path d="M759.05,443.20L759.05,440.90M759.05,443.20L761.24,442.49M759.05,443.20L760.40,445.06M759.05,443.20L757.70,445.06M759.05,443.20L756.86,442.49" stroke="#111" stroke-width="1.15" stroke-linecap="round" fill="none"/>
<rect x="770.50" y="432.50" width="7.00" height="114.00" fill="#21477e" stroke="#111" stroke-width="1.1"/>
<line x1="773.50" y1="420.50" x2="773.50" y2="443.90" stroke="#111" stroke-width="1.1"/>
<line x1="770.25" y1="420.50" x2="777.65" y2="420.50" stroke="#111" stroke-width="1.2"/>
<line x1="770.25" y1="443.50" x2="777.65" y2="443.50" stroke="#111" stroke-width="1.2"/>
<path d="M773.95,413.10L773.95,410.80M773.95,413.10L776.14,412.39M773.95,413.10L775.30,414.96M773.95,413.10L772.60,414.96M773.95,413.10L771.76,412.39" stroke="#111" stroke-width="1.15" stroke-linecap="round" fill="none"/>
<rect x="800.50" y="486.50" width="6.00" height="60.00" fill="#8bb0e3" stroke="#111" stroke-width="1.1"/>
<line x1="803.50" y1="480.60" x2="803.50" y2="493.00" stroke="#111" stroke-width="1.1"/>
<line x1="800.05" y1="480.50" x2="807.45" y2="480.50" stroke="#111" stroke-width="1.2"/>
<line x1="800.05" y1="493.50" x2="807.45" y2="493.50" stroke="#111" stroke-width="1.2"/>
<rect x="815.50" y="486.50" width="6.00" height="60.00" fill="#8bb0e3" stroke="#111" stroke-width="1.1"/>
<line x1="818.50" y1="480.60" x2="818.50" y2="493.00" stroke="#111" stroke-width="1.1"/>
<line x1="814.95" y1="480.50" x2="822.35" y2="480.50" stroke="#111" stroke-width="1.2"/>
<line x1="814.95" y1="493.50" x2="822.35" y2="493.50" stroke="#111" stroke-width="1.2"/>
<rect x="830.50" y="484.50" width="6.00" height="62.00" fill="#8bb0e3" stroke="#111" stroke-width="1.1"/>
<line x1="833.50" y1="478.00" x2="833.50" y2="490.00" stroke="#111" stroke-width="1.1"/>
<line x1="829.85" y1="478.50" x2="837.25" y2="478.50" stroke="#111" stroke-width="1.2"/>
<line x1="829.85" y1="490.50" x2="837.25" y2="490.50" stroke="#111" stroke-width="1.2"/>
<rect x="845.50" y="479.50" width="6.00" height="67.00" fill="#8bb0e3" stroke="#111" stroke-width="1.1"/>
<line x1="848.50" y1="472.40" x2="848.50" y2="486.40" stroke="#111" stroke-width="1.1"/>
<line x1="844.75" y1="472.50" x2="852.15" y2="472.50" stroke="#111" stroke-width="1.2"/>
<line x1="844.75" y1="486.50" x2="852.15" y2="486.50" stroke="#111" stroke-width="1.2"/>
<path d="M848.45,464.70L848.45,462.40M848.45,464.70L850.64,463.99M848.45,464.70L849.80,466.56M848.45,464.70L847.10,466.56M848.45,464.70L846.26,463.99" stroke="#111" stroke-width="1.15" stroke-linecap="round" fill="none"/>
<rect x="860.50" y="475.50" width="6.00" height="71.00" fill="#8bb0e3" stroke="#111" stroke-width="1.1"/>
<line x1="863.50" y1="468.60" x2="863.50" y2="483.00" stroke="#111" stroke-width="1.1"/>
<line x1="859.65" y1="468.50" x2="867.05" y2="468.50" stroke="#111" stroke-width="1.2"/>
<line x1="859.65" y1="483.50" x2="867.05" y2="483.50" stroke="#111" stroke-width="1.2"/>
<path d="M863.35,461.30L863.35,459.00M863.35,461.30L865.54,460.59M863.35,461.30L864.70,463.16M863.35,461.30L862.00,463.16M863.35,461.30L861.16,460.59" stroke="#111" stroke-width="1.15" stroke-linecap="round" fill="none"/>
<rect x="875.50" y="459.50" width="6.00" height="87.00" fill="#8bb0e3" stroke="#111" stroke-width="1.1"/>
<line x1="878.50" y1="450.30" x2="878.50" y2="468.30" stroke="#111" stroke-width="1.1"/>
<line x1="874.55" y1="450.50" x2="881.95" y2="450.50" stroke="#111" stroke-width="1.2"/>
<line x1="874.55" y1="468.50" x2="881.95" y2="468.50" stroke="#111" stroke-width="1.2"/>
<path d="M878.25,442.20L878.25,439.90M878.25,442.20L880.44,441.49M878.25,442.20L879.60,444.06M878.25,442.20L876.90,444.06M878.25,442.20L876.06,441.49" stroke="#111" stroke-width="1.15" stroke-linecap="round" fill="none"/>
<rect x="889.50" y="422.50" width="7.00" height="124.00" fill="#8bb0e3" stroke="#111" stroke-width="1.1"/>
<line x1="893.50" y1="409.50" x2="893.50" y2="434.90" stroke="#111" stroke-width="1.1"/>
<line x1="889.45" y1="409.50" x2="896.85" y2="409.50" stroke="#111" stroke-width="1.2"/>
<line x1="889.45" y1="434.50" x2="896.85" y2="434.50" stroke="#111" stroke-width="1.2"/>
<path d="M893.15,401.10L893.15,398.80M893.15,401.10L895.34,400.39M893.15,401.10L894.50,402.96M893.15,401.10L891.80,402.96M893.15,401.10L890.96,400.39" stroke="#111" stroke-width="1.15" stroke-linecap="round" fill="none"/>
<text transform="translate(493,472.5) rotate(-90)" font-size="13" text-anchor="middle" fill="#111">Palmitate oxidation</text>
<text transform="translate(508.5,471) rotate(-90)" font-size="13" text-anchor="middle" fill="#111">(CPM&#215;10<tspan font-size="8.5" dy="-4.5">3</tspan><tspan dy="4.5">/1&#215;10</tspan><tspan font-size="8.5" dy="-4.5">6</tspan><tspan dy="4.5"> cells)</tspan></text>
<text transform="translate(569.65,557.7) rotate(-90)" font-size="12.5" text-anchor="end" fill="#111">0</text>
<text transform="translate(584.55,557.7) rotate(-90)" font-size="12.5" text-anchor="end" fill="#111">6</text>
<text transform="translate(599.45,557.7) rotate(-90)" font-size="12.5" text-anchor="end" fill="#111">12</text>
<text transform="translate(614.35,557.7) rotate(-90)" font-size="12.5" text-anchor="end" fill="#111">24</text>
<text transform="translate(629.25,557.7) rotate(-90)" font-size="12.5" text-anchor="end" fill="#111">48</text>
<text transform="translate(644.15,557.7) rotate(-90)" font-size="12.5" text-anchor="end" fill="#111">72</text>
<text transform="translate(659.05,557.7) rotate(-90)" font-size="12.5" text-anchor="end" fill="#111">96</text>
<text transform="translate(688.85,557.7) rotate(-90)" font-size="12.5" text-anchor="end" fill="#111">0</text>
<text transform="translate(703.75,557.7) rotate(-90)" font-size="12.5" text-anchor="end" fill="#111">6</text>
<text transform="translate(718.65,557.7) rotate(-90)" font-size="12.5" text-anchor="end" fill="#111">12</text>
<text transform="translate(733.55,557.7) rotate(-90)" font-size="12.5" text-anchor="end" fill="#111">24</text>
<text transform="translate(748.45,557.7) rotate(-90)" font-size="12.5" text-anchor="end" fill="#111">48</text>
<text transform="translate(763.35,557.7) rotate(-90)" font-size="12.5" text-anchor="end" fill="#111">72</text>
<text transform="translate(778.25,557.7) rotate(-90)" font-size="12.5" text-anchor="end" fill="#111">96</text>
<text transform="translate(808.05,557.7) rotate(-90)" font-size="12.5" text-anchor="end" fill="#111">0</text>
<text transform="translate(822.95,557.7) rotate(-90)" font-size="12.5" text-anchor="end" fill="#111">6</text>
<text transform="translate(837.85,557.7) rotate(-90)" font-size="12.5" text-anchor="end" fill="#111">12</text>
<text transform="translate(852.75,557.7) rotate(-90)" font-size="12.5" text-anchor="end" fill="#111">24</text>
<text transform="translate(867.65,557.7) rotate(-90)" font-size="12.5" text-anchor="end" fill="#111">48</text>
<text transform="translate(882.55,557.7) rotate(-90)" font-size="12.5" text-anchor="end" fill="#111">72</text>
<text transform="translate(897.45,557.7) rotate(-90)" font-size="12.5" text-anchor="end" fill="#111">96</text>
<text x="673.80" y="594.20" font-size="13" text-anchor="start" fill="#111">Stimulation time (h)</text>
<rect x="154.7" y="49.6" width="177.50" height="140.00" fill="none" stroke="#111" stroke-width="1.3"/>
<line x1="149.70" y1="189.50" x2="154.70" y2="189.50" stroke="#111" stroke-width="1.2"/>
<text x="145.40" y="194.10" font-size="12.6" text-anchor="end" fill="#111">0</text>
<line x1="152.70" y1="182.50" x2="154.70" y2="182.50" stroke="#111" stroke-width="1.0"/>
<line x1="152.70" y1="176.50" x2="154.70" y2="176.50" stroke="#111" stroke-width="1.0"/>
<line x1="152.70" y1="169.50" x2="154.70" y2="169.50" stroke="#111" stroke-width="1.0"/>
<line x1="149.70" y1="162.50" x2="154.70" y2="162.50" stroke="#111" stroke-width="1.2"/>
<text x="145.40" y="167.48" font-size="12.6" text-anchor="end" fill="#111">20</text>
<line x1="152.70" y1="156.50" x2="154.70" y2="156.50" stroke="#111" stroke-width="1.0"/>
<line x1="152.70" y1="149.50" x2="154.70" y2="149.50" stroke="#111" stroke-width="1.0"/>
<line x1="152.70" y1="143.50" x2="154.70" y2="143.50" stroke="#111" stroke-width="1.0"/>
<line x1="149.70" y1="136.50" x2="154.70" y2="136.50" stroke="#111" stroke-width="1.2"/>
<text x="145.40" y="140.86" font-size="12.6" text-anchor="end" fill="#111">40</text>
<line x1="152.70" y1="129.50" x2="154.70" y2="129.50" stroke="#111" stroke-width="1.0"/>
<line x1="152.70" y1="123.50" x2="154.70" y2="123.50" stroke="#111" stroke-width="1.0"/>
<line x1="152.70" y1="116.50" x2="154.70" y2="116.50" stroke="#111" stroke-width="1.0"/>
<line x1="149.70" y1="109.50" x2="154.70" y2="109.50" stroke="#111" stroke-width="1.2"/>
<text x="145.40" y="114.24" font-size="12.6" text-anchor="end" fill="#111">60</text>
<line x1="152.70" y1="103.50" x2="154.70" y2="103.50" stroke="#111" stroke-width="1.0"/>
<line x1="152.70" y1="96.50" x2="154.70" y2="96.50" stroke="#111" stroke-width="1.0"/>
<line x1="152.70" y1="89.50" x2="154.70" y2="89.50" stroke="#111" stroke-width="1.0"/>
<line x1="149.70" y1="83.50" x2="154.70" y2="83.50" stroke="#111" stroke-width="1.2"/>
<text x="145.40" y="87.62" font-size="12.6" text-anchor="end" fill="#111">80</text>
<line x1="152.70" y1="76.50" x2="154.70" y2="76.50" stroke="#111" stroke-width="1.0"/>
<line x1="152.70" y1="69.50" x2="154.70" y2="69.50" stroke="#111" stroke-width="1.0"/>
<line x1="152.70" y1="63.50" x2="154.70" y2="63.50" stroke="#111" stroke-width="1.0"/>
<line x1="149.70" y1="56.50" x2="154.70" y2="56.50" stroke="#111" stroke-width="1.2"/>
<text x="145.40" y="61.00" font-size="12.6" text-anchor="end" fill="#111">100</text>
<line x1="154.50" y1="189.60" x2="154.50" y2="193.80" stroke="#111" stroke-width="1.2"/>
<text x="153.75" y="211.40" font-size="12.6" text-anchor="middle" fill="#111">10<tspan font-size="8.8" dy="-5.2">0</tspan></text>
<line x1="164.50" y1="189.60" x2="164.50" y2="191.80" stroke="#111" stroke-width="1.0"/>
<line x1="170.50" y1="189.60" x2="170.50" y2="191.80" stroke="#111" stroke-width="1.0"/>
<line x1="174.50" y1="189.60" x2="174.50" y2="191.80" stroke="#111" stroke-width="1.0"/>
<line x1="177.50" y1="189.60" x2="177.50" y2="191.80" stroke="#111" stroke-width="1.0"/>
<line x1="179.50" y1="189.60" x2="179.50" y2="191.80" stroke="#111" stroke-width="1.0"/>
<line x1="182.50" y1="189.60" x2="182.50" y2="191.80" stroke="#111" stroke-width="1.0"/>
<line x1="184.50" y1="189.60" x2="184.50" y2="191.80" stroke="#111" stroke-width="1.0"/>
<line x1="185.50" y1="189.60" x2="185.50" y2="191.80" stroke="#111" stroke-width="1.0"/>
<line x1="187.50" y1="189.60" x2="187.50" y2="193.80" stroke="#111" stroke-width="1.2"/>
<text x="186.50" y="211.40" font-size="12.6" text-anchor="middle" fill="#111">10<tspan font-size="8.8" dy="-5.2">1</tspan></text>
<line x1="196.50" y1="189.60" x2="196.50" y2="191.80" stroke="#111" stroke-width="1.0"/>
<line x1="202.50" y1="189.60" x2="202.50" y2="191.80" stroke="#111" stroke-width="1.0"/>
<line x1="206.50" y1="189.60" x2="206.50" y2="191.80" stroke="#111" stroke-width="1.0"/>
<line x1="209.50" y1="189.60" x2="209.50" y2="191.80" stroke="#111" stroke-width="1.0"/>
<line x1="212.50" y1="189.60" x2="212.50" y2="191.80" stroke="#111" stroke-width="1.0"/>
<line x1="214.50" y1="189.60" x2="214.50" y2="191.80" stroke="#111" stroke-width="1.0"/>
<line x1="216.50" y1="189.60" x2="216.50" y2="191.80" stroke="#111" stroke-width="1.0"/>
<line x1="218.50" y1="189.60" x2="218.50" y2="191.80" stroke="#111" stroke-width="1.0"/>
<line x1="219.50" y1="189.60" x2="219.50" y2="193.80" stroke="#111" stroke-width="1.2"/>
<text x="219.60" y="211.40" font-size="12.6" text-anchor="middle" fill="#111">10<tspan font-size="8.8" dy="-5.2">2</tspan></text>
<line x1="229.50" y1="189.60" x2="229.50" y2="191.80" stroke="#111" stroke-width="1.0"/>
<line x1="235.50" y1="189.60" x2="235.50" y2="191.80" stroke="#111" stroke-width="1.0"/>
<line x1="239.50" y1="189.60" x2="239.50" y2="191.80" stroke="#111" stroke-width="1.0"/>
<line x1="242.50" y1="189.60" x2="242.50" y2="191.80" stroke="#111" stroke-width="1.0"/>
<line x1="244.50" y1="189.60" x2="244.50" y2="191.80" stroke="#111" stroke-width="1.0"/>
<line x1="247.50" y1="189.60" x2="247.50" y2="191.80" stroke="#111" stroke-width="1.0"/>
<line x1="249.50" y1="189.60" x2="249.50" y2="191.80" stroke="#111" stroke-width="1.0"/>
<line x1="250.50" y1="189.60" x2="250.50" y2="191.80" stroke="#111" stroke-width="1.0"/>
<line x1="252.50" y1="189.60" x2="252.50" y2="193.80" stroke="#111" stroke-width="1.2"/>
<text x="252.70" y="211.40" font-size="12.6" text-anchor="middle" fill="#111">10<tspan font-size="8.8" dy="-5.2">3</tspan></text>
<line x1="261.50" y1="189.60" x2="261.50" y2="191.80" stroke="#111" stroke-width="1.0"/>
<line x1="267.50" y1="189.60" x2="267.50" y2="191.80" stroke="#111" stroke-width="1.0"/>
<line x1="271.50" y1="189.60" x2="271.50" y2="191.80" stroke="#111" stroke-width="1.0"/>
<line x1="274.50" y1="189.60" x2="274.50" y2="191.80" stroke="#111" stroke-width="1.0"/>
<line x1="277.50" y1="189.60" x2="277.50" y2="191.80" stroke="#111" stroke-width="1.0"/>
<line x1="279.50" y1="189.60" x2="279.50" y2="191.80" stroke="#111" stroke-width="1.0"/>
<line x1="281.50" y1="189.60" x2="281.50" y2="191.80" stroke="#111" stroke-width="1.0"/>
<line x1="283.50" y1="189.60" x2="283.50" y2="191.80" stroke="#111" stroke-width="1.0"/>
<line x1="284.50" y1="189.60" x2="284.50" y2="193.80" stroke="#111" stroke-width="1.2"/>
<text x="285.10" y="211.40" font-size="12.6" text-anchor="middle" fill="#111">10<tspan font-size="8.8" dy="-5.2">4</tspan></text>
<line x1="294.50" y1="189.60" x2="294.50" y2="191.80" stroke="#111" stroke-width="1.0"/>
<line x1="300.50" y1="189.60" x2="300.50" y2="191.80" stroke="#111" stroke-width="1.0"/>
<line x1="304.50" y1="189.60" x2="304.50" y2="191.80" stroke="#111" stroke-width="1.0"/>
<line x1="307.50" y1="189.60" x2="307.50" y2="191.80" stroke="#111" stroke-width="1.0"/>
<line x1="309.50" y1="189.60" x2="309.50" y2="191.80" stroke="#111" stroke-width="1.0"/>
<line x1="312.50" y1="189.60" x2="312.50" y2="191.80" stroke="#111" stroke-width="1.0"/>
<line x1="314.50" y1="189.60" x2="314.50" y2="191.80" stroke="#111" stroke-width="1.0"/>
<line x1="315.50" y1="189.60" x2="315.50" y2="191.80" stroke="#111" stroke-width="1.0"/>
<line x1="317.50" y1="189.60" x2="317.50" y2="193.80" stroke="#111" stroke-width="1.2"/>
<text x="318.10" y="211.40" font-size="12.6" text-anchor="middle" fill="#111">10<tspan font-size="8.8" dy="-5.2">5</tspan></text>
<text transform="translate(117.6,120.00) rotate(-90)" font-size="13" text-anchor="middle" fill="#111">% Of max</text>
<text x="33.00" y="120.60" font-size="13" text-anchor="start" fill="#111">TCC</text>
<rect x="153.3" y="230.0" width="176.50" height="138.80" fill="none" stroke="#111" stroke-width="1.3"/>
<line x1="148.30" y1="368.50" x2="153.30" y2="368.50" stroke="#111" stroke-width="1.2"/>
<text x="145.40" y="373.30" font-size="12.6" text-anchor="end" fill="#111">0</text>
<line x1="151.30" y1="362.50" x2="153.30" y2="362.50" stroke="#111" stroke-width="1.0"/>
<line x1="151.30" y1="355.50" x2="153.30" y2="355.50" stroke="#111" stroke-width="1.0"/>
<line x1="151.30" y1="349.50" x2="153.30" y2="349.50" stroke="#111" stroke-width="1.0"/>
<line x1="148.30" y1="342.50" x2="153.30" y2="342.50" stroke="#111" stroke-width="1.2"/>
<text x="145.40" y="346.92" font-size="12.6" text-anchor="end" fill="#111">20</text>
<line x1="151.30" y1="335.50" x2="153.30" y2="335.50" stroke="#111" stroke-width="1.0"/>
<line x1="151.30" y1="329.50" x2="153.30" y2="329.50" stroke="#111" stroke-width="1.0"/>
<line x1="151.30" y1="322.50" x2="153.30" y2="322.50" stroke="#111" stroke-width="1.0"/>
<line x1="148.30" y1="316.50" x2="153.30" y2="316.50" stroke="#111" stroke-width="1.2"/>
<text x="145.40" y="320.54" font-size="12.6" text-anchor="end" fill="#111">40</text>
<line x1="151.30" y1="309.50" x2="153.30" y2="309.50" stroke="#111" stroke-width="1.0"/>
<line x1="151.30" y1="302.50" x2="153.30" y2="302.50" stroke="#111" stroke-width="1.0"/>
<line x1="151.30" y1="296.50" x2="153.30" y2="296.50" stroke="#111" stroke-width="1.0"/>
<line x1="148.30" y1="289.50" x2="153.30" y2="289.50" stroke="#111" stroke-width="1.2"/>
<text x="145.40" y="294.16" font-size="12.6" text-anchor="end" fill="#111">60</text>
<line x1="151.30" y1="283.50" x2="153.30" y2="283.50" stroke="#111" stroke-width="1.0"/>
<line x1="151.30" y1="276.50" x2="153.30" y2="276.50" stroke="#111" stroke-width="1.0"/>
<line x1="151.30" y1="269.50" x2="153.30" y2="269.50" stroke="#111" stroke-width="1.0"/>
<line x1="148.30" y1="263.50" x2="153.30" y2="263.50" stroke="#111" stroke-width="1.2"/>
<text x="145.40" y="267.78" font-size="12.6" text-anchor="end" fill="#111">80</text>
<line x1="151.30" y1="256.50" x2="153.30" y2="256.50" stroke="#111" stroke-width="1.0"/>
<line x1="151.30" y1="250.50" x2="153.30" y2="250.50" stroke="#111" stroke-width="1.0"/>
<line x1="151.30" y1="243.50" x2="153.30" y2="243.50" stroke="#111" stroke-width="1.0"/>
<line x1="148.30" y1="236.50" x2="153.30" y2="236.50" stroke="#111" stroke-width="1.2"/>
<text x="145.40" y="241.40" font-size="12.6" text-anchor="end" fill="#111">100</text>
<line x1="153.50" y1="368.80" x2="153.50" y2="373.00" stroke="#111" stroke-width="1.2"/>
<text x="155.10" y="390.60" font-size="12.6" text-anchor="middle" fill="#111">10<tspan font-size="8.8" dy="-5.2">0</tspan></text>
<line x1="163.50" y1="368.80" x2="163.50" y2="371.00" stroke="#111" stroke-width="1.0"/>
<line x1="168.50" y1="368.80" x2="168.50" y2="371.00" stroke="#111" stroke-width="1.0"/>
<line x1="172.50" y1="368.80" x2="172.50" y2="371.00" stroke="#111" stroke-width="1.0"/>
<line x1="175.50" y1="368.80" x2="175.50" y2="371.00" stroke="#111" stroke-width="1.0"/>
<line x1="178.50" y1="368.80" x2="178.50" y2="371.00" stroke="#111" stroke-width="1.0"/>
<line x1="180.50" y1="368.80" x2="180.50" y2="371.00" stroke="#111" stroke-width="1.0"/>
<line x1="182.50" y1="368.80" x2="182.50" y2="371.00" stroke="#111" stroke-width="1.0"/>
<line x1="184.50" y1="368.80" x2="184.50" y2="371.00" stroke="#111" stroke-width="1.0"/>
<line x1="185.50" y1="368.80" x2="185.50" y2="373.00" stroke="#111" stroke-width="1.2"/>
<text x="186.70" y="390.60" font-size="12.6" text-anchor="middle" fill="#111">10<tspan font-size="8.8" dy="-5.2">1</tspan></text>
<line x1="195.50" y1="368.80" x2="195.50" y2="371.00" stroke="#111" stroke-width="1.0"/>
<line x1="200.50" y1="368.80" x2="200.50" y2="371.00" stroke="#111" stroke-width="1.0"/>
<line x1="204.50" y1="368.80" x2="204.50" y2="371.00" stroke="#111" stroke-width="1.0"/>
<line x1="208.50" y1="368.80" x2="208.50" y2="371.00" stroke="#111" stroke-width="1.0"/>
<line x1="210.50" y1="368.80" x2="210.50" y2="371.00" stroke="#111" stroke-width="1.0"/>
<line x1="212.50" y1="368.80" x2="212.50" y2="371.00" stroke="#111" stroke-width="1.0"/>
<line x1="214.50" y1="368.80" x2="214.50" y2="371.00" stroke="#111" stroke-width="1.0"/>
<line x1="216.50" y1="368.80" x2="216.50" y2="371.00" stroke="#111" stroke-width="1.0"/>
<line x1="217.50" y1="368.80" x2="217.50" y2="373.00" stroke="#111" stroke-width="1.2"/>
<text x="218.80" y="390.60" font-size="12.6" text-anchor="middle" fill="#111">10<tspan font-size="8.8" dy="-5.2">2</tspan></text>
<line x1="227.50" y1="368.80" x2="227.50" y2="371.00" stroke="#111" stroke-width="1.0"/>
<line x1="233.50" y1="368.80" x2="233.50" y2="371.00" stroke="#111" stroke-width="1.0"/>
<line x1="237.50" y1="368.80" x2="237.50" y2="371.00" stroke="#111" stroke-width="1.0"/>
<line x1="240.50" y1="368.80" x2="240.50" y2="371.00" stroke="#111" stroke-width="1.0"/>
<line x1="242.50" y1="368.80" x2="242.50" y2="371.00" stroke="#111" stroke-width="1.0"/>
<line x1="245.50" y1="368.80" x2="245.50" y2="371.00" stroke="#111" stroke-width="1.0"/>
<line x1="246.50" y1="368.80" x2="246.50" y2="371.00" stroke="#111" stroke-width="1.0"/>
<line x1="248.50" y1="368.80" x2="248.50" y2="371.00" stroke="#111" stroke-width="1.0"/>
<line x1="250.50" y1="368.80" x2="250.50" y2="373.00" stroke="#111" stroke-width="1.2"/>
<text x="251.50" y="390.60" font-size="12.6" text-anchor="middle" fill="#111">10<tspan font-size="8.8" dy="-5.2">3</tspan></text>
<line x1="259.50" y1="368.80" x2="259.50" y2="371.00" stroke="#111" stroke-width="1.0"/>
<line x1="265.50" y1="368.80" x2="265.50" y2="371.00" stroke="#111" stroke-width="1.0"/>
<line x1="269.50" y1="368.80" x2="269.50" y2="371.00" stroke="#111" stroke-width="1.0"/>
<line x1="272.50" y1="368.80" x2="272.50" y2="371.00" stroke="#111" stroke-width="1.0"/>
<line x1="275.50" y1="368.80" x2="275.50" y2="371.00" stroke="#111" stroke-width="1.0"/>
<line x1="277.50" y1="368.80" x2="277.50" y2="371.00" stroke="#111" stroke-width="1.0"/>
<line x1="279.50" y1="368.80" x2="279.50" y2="371.00" stroke="#111" stroke-width="1.0"/>
<line x1="280.50" y1="368.80" x2="280.50" y2="371.00" stroke="#111" stroke-width="1.0"/>
<line x1="282.50" y1="368.80" x2="282.50" y2="373.00" stroke="#111" stroke-width="1.2"/>
<text x="283.20" y="390.60" font-size="12.6" text-anchor="middle" fill="#111">10<tspan font-size="8.8" dy="-5.2">4</tspan></text>
<line x1="292.50" y1="368.80" x2="292.50" y2="371.00" stroke="#111" stroke-width="1.0"/>
<line x1="297.50" y1="368.80" x2="297.50" y2="371.00" stroke="#111" stroke-width="1.0"/>
<line x1="301.50" y1="368.80" x2="301.50" y2="371.00" stroke="#111" stroke-width="1.0"/>
<line x1="304.50" y1="368.80" x2="304.50" y2="371.00" stroke="#111" stroke-width="1.0"/>
<line x1="307.50" y1="368.80" x2="307.50" y2="371.00" stroke="#111" stroke-width="1.0"/>
<line x1="309.50" y1="368.80" x2="309.50" y2="371.00" stroke="#111" stroke-width="1.0"/>
<line x1="311.50" y1="368.80" x2="311.50" y2="371.00" stroke="#111" stroke-width="1.0"/>
<line x1="313.50" y1="368.80" x2="313.50" y2="371.00" stroke="#111" stroke-width="1.0"/>
<line x1="314.50" y1="368.80" x2="314.50" y2="373.00" stroke="#111" stroke-width="1.2"/>
<text x="315.00" y="390.60" font-size="12.6" text-anchor="middle" fill="#111">10<tspan font-size="8.8" dy="-5.2">5</tspan></text>
<text transform="translate(117.6,299.40) rotate(-90)" font-size="13" text-anchor="middle" fill="#111">% Of max</text>
<g transform="translate(3.00,297.50)"><text x="0.00" y="0" font-size="12.7" fill="#111">Tpr4hr</text><path d="M41.73,-3.17H53.00M50.46,-6.29L53.00,-3.17L50.46,-0.06" fill="none" stroke="#111" stroke-width="1.0"/><text x="57.16" y="0" font-size="12.7" fill="#111">PD-1</text></g>
<rect x="153.0" y="405.8" width="176.30" height="139.50" fill="none" stroke="#111" stroke-width="1.3"/>
<line x1="148.00" y1="545.50" x2="153.00" y2="545.50" stroke="#111" stroke-width="1.2"/>
<text x="145.40" y="549.80" font-size="12.6" text-anchor="end" fill="#111">0</text>
<line x1="151.00" y1="538.50" x2="153.00" y2="538.50" stroke="#111" stroke-width="1.0"/>
<line x1="151.00" y1="532.50" x2="153.00" y2="532.50" stroke="#111" stroke-width="1.0"/>
<line x1="151.00" y1="525.50" x2="153.00" y2="525.50" stroke="#111" stroke-width="1.0"/>
<line x1="148.00" y1="518.50" x2="153.00" y2="518.50" stroke="#111" stroke-width="1.2"/>
<text x="145.40" y="523.28" font-size="12.6" text-anchor="end" fill="#111">20</text>
<line x1="151.00" y1="512.50" x2="153.00" y2="512.50" stroke="#111" stroke-width="1.0"/>
<line x1="151.00" y1="505.50" x2="153.00" y2="505.50" stroke="#111" stroke-width="1.0"/>
<line x1="151.00" y1="498.50" x2="153.00" y2="498.50" stroke="#111" stroke-width="1.0"/>
<line x1="148.00" y1="492.50" x2="153.00" y2="492.50" stroke="#111" stroke-width="1.2"/>
<text x="145.40" y="496.76" font-size="12.6" text-anchor="end" fill="#111">40</text>
<line x1="151.00" y1="485.50" x2="153.00" y2="485.50" stroke="#111" stroke-width="1.0"/>
<line x1="151.00" y1="479.50" x2="153.00" y2="479.50" stroke="#111" stroke-width="1.0"/>
<line x1="151.00" y1="472.50" x2="153.00" y2="472.50" stroke="#111" stroke-width="1.0"/>
<line x1="148.00" y1="465.50" x2="153.00" y2="465.50" stroke="#111" stroke-width="1.2"/>
<text x="145.40" y="470.24" font-size="12.6" text-anchor="end" fill="#111">60</text>
<line x1="151.00" y1="459.50" x2="153.00" y2="459.50" stroke="#111" stroke-width="1.0"/>
<line x1="151.00" y1="452.50" x2="153.00" y2="452.50" stroke="#111" stroke-width="1.0"/>
<line x1="151.00" y1="445.50" x2="153.00" y2="445.50" stroke="#111" stroke-width="1.0"/>
<line x1="148.00" y1="439.50" x2="153.00" y2="439.50" stroke="#111" stroke-width="1.2"/>
<text x="145.40" y="443.72" font-size="12.6" text-anchor="end" fill="#111">80</text>
<line x1="151.00" y1="432.50" x2="153.00" y2="432.50" stroke="#111" stroke-width="1.0"/>
<line x1="151.00" y1="425.50" x2="153.00" y2="425.50" stroke="#111" stroke-width="1.0"/>
<line x1="151.00" y1="419.50" x2="153.00" y2="419.50" stroke="#111" stroke-width="1.0"/>
<line x1="148.00" y1="412.50" x2="153.00" y2="412.50" stroke="#111" stroke-width="1.2"/>
<text x="145.40" y="417.20" font-size="12.6" text-anchor="end" fill="#111">100</text>
<line x1="153.50" y1="545.30" x2="153.50" y2="549.50" stroke="#111" stroke-width="1.2"/>
<text x="153.75" y="567.10" font-size="12.6" text-anchor="middle" fill="#111">10<tspan font-size="8.8" dy="-5.2">0</tspan></text>
<line x1="162.50" y1="545.30" x2="162.50" y2="547.50" stroke="#111" stroke-width="1.0"/>
<line x1="168.50" y1="545.30" x2="168.50" y2="547.50" stroke="#111" stroke-width="1.0"/>
<line x1="172.50" y1="545.30" x2="172.50" y2="547.50" stroke="#111" stroke-width="1.0"/>
<line x1="175.50" y1="545.30" x2="175.50" y2="547.50" stroke="#111" stroke-width="1.0"/>
<line x1="178.50" y1="545.30" x2="178.50" y2="547.50" stroke="#111" stroke-width="1.0"/>
<line x1="180.50" y1="545.30" x2="180.50" y2="547.50" stroke="#111" stroke-width="1.0"/>
<line x1="182.50" y1="545.30" x2="182.50" y2="547.50" stroke="#111" stroke-width="1.0"/>
<line x1="183.50" y1="545.30" x2="183.50" y2="547.50" stroke="#111" stroke-width="1.0"/>
<line x1="185.50" y1="545.30" x2="185.50" y2="549.50" stroke="#111" stroke-width="1.2"/>
<text x="189.50" y="567.10" font-size="12.6" text-anchor="middle" fill="#111">10<tspan font-size="8.8" dy="-5.2">1</tspan></text>
<line x1="195.50" y1="545.30" x2="195.50" y2="547.50" stroke="#111" stroke-width="1.0"/>
<line x1="200.50" y1="545.30" x2="200.50" y2="547.50" stroke="#111" stroke-width="1.0"/>
<line x1="204.50" y1="545.30" x2="204.50" y2="547.50" stroke="#111" stroke-width="1.0"/>
<line x1="207.50" y1="545.30" x2="207.50" y2="547.50" stroke="#111" stroke-width="1.0"/>
<line x1="210.50" y1="545.30" x2="210.50" y2="547.50" stroke="#111" stroke-width="1.0"/>
<line x1="212.50" y1="545.30" x2="212.50" y2="547.50" stroke="#111" stroke-width="1.0"/>
<line x1="214.50" y1="545.30" x2="214.50" y2="547.50" stroke="#111" stroke-width="1.0"/>
<line x1="216.50" y1="545.30" x2="216.50" y2="547.50" stroke="#111" stroke-width="1.0"/>
<line x1="217.50" y1="545.30" x2="217.50" y2="549.50" stroke="#111" stroke-width="1.2"/>
<text x="222.10" y="567.10" font-size="12.6" text-anchor="middle" fill="#111">10<tspan font-size="8.8" dy="-5.2">2</tspan></text>
<line x1="227.50" y1="545.30" x2="227.50" y2="547.50" stroke="#111" stroke-width="1.0"/>
<line x1="233.50" y1="545.30" x2="233.50" y2="547.50" stroke="#111" stroke-width="1.0"/>
<line x1="237.50" y1="545.30" x2="237.50" y2="547.50" stroke="#111" stroke-width="1.0"/>
<line x1="240.50" y1="545.30" x2="240.50" y2="547.50" stroke="#111" stroke-width="1.0"/>
<line x1="242.50" y1="545.30" x2="242.50" y2="547.50" stroke="#111" stroke-width="1.0"/>
<line x1="245.50" y1="545.30" x2="245.50" y2="547.50" stroke="#111" stroke-width="1.0"/>
<line x1="246.50" y1="545.30" x2="246.50" y2="547.50" stroke="#111" stroke-width="1.0"/>
<line x1="248.50" y1="545.30" x2="248.50" y2="547.50" stroke="#111" stroke-width="1.0"/>
<line x1="250.50" y1="545.30" x2="250.50" y2="549.50" stroke="#111" stroke-width="1.2"/>
<text x="255.00" y="567.10" font-size="12.6" text-anchor="middle" fill="#111">10<tspan font-size="8.8" dy="-5.2">3</tspan></text>
<line x1="259.50" y1="545.30" x2="259.50" y2="547.50" stroke="#111" stroke-width="1.0"/>
<line x1="265.50" y1="545.30" x2="265.50" y2="547.50" stroke="#111" stroke-width="1.0"/>
<line x1="269.50" y1="545.30" x2="269.50" y2="547.50" stroke="#111" stroke-width="1.0"/>
<line x1="272.50" y1="545.30" x2="272.50" y2="547.50" stroke="#111" stroke-width="1.0"/>
<line x1="275.50" y1="545.30" x2="275.50" y2="547.50" stroke="#111" stroke-width="1.0"/>
<line x1="277.50" y1="545.30" x2="277.50" y2="547.50" stroke="#111" stroke-width="1.0"/>
<line x1="279.50" y1="545.30" x2="279.50" y2="547.50" stroke="#111" stroke-width="1.0"/>
<line x1="280.50" y1="545.30" x2="280.50" y2="547.50" stroke="#111" stroke-width="1.0"/>
<line x1="282.50" y1="545.30" x2="282.50" y2="549.50" stroke="#111" stroke-width="1.2"/>
<text x="287.45" y="567.10" font-size="12.6" text-anchor="middle" fill="#111">10<tspan font-size="8.8" dy="-5.2">4</tspan></text>
<line x1="292.50" y1="545.30" x2="292.50" y2="547.50" stroke="#111" stroke-width="1.0"/>
<line x1="297.50" y1="545.30" x2="297.50" y2="547.50" stroke="#111" stroke-width="1.0"/>
<line x1="301.50" y1="545.30" x2="301.50" y2="547.50" stroke="#111" stroke-width="1.0"/>
<line x1="305.50" y1="545.30" x2="305.50" y2="547.50" stroke="#111" stroke-width="1.0"/>
<line x1="307.50" y1="545.30" x2="307.50" y2="547.50" stroke="#111" stroke-width="1.0"/>
<line x1="309.50" y1="545.30" x2="309.50" y2="547.50" stroke="#111" stroke-width="1.0"/>
<line x1="311.50" y1="545.30" x2="311.50" y2="547.50" stroke="#111" stroke-width="1.0"/>
<line x1="313.50" y1="545.30" x2="313.50" y2="547.50" stroke="#111" stroke-width="1.0"/>
<line x1="314.50" y1="545.30" x2="314.50" y2="549.50" stroke="#111" stroke-width="1.2"/>
<text x="315.00" y="567.10" font-size="12.6" text-anchor="middle" fill="#111">10<tspan font-size="8.8" dy="-5.2">5</tspan></text>
<text transform="translate(117.6,477.45) rotate(-90)" font-size="13" text-anchor="middle" fill="#111">% Of max</text>
<g transform="translate(2.00,483.80)"><text x="0.00" y="0" font-size="12.7" fill="#111">Tpr24h</text><path d="M44.57,-3.17H55.83M53.29,-6.29L55.83,-3.17L53.29,-0.06" fill="none" stroke="#111" stroke-width="1.0"/><text x="60.00" y="0" font-size="12.7" fill="#111">PD-1</text></g>
<line x1="342.30" y1="57.50" x2="358.50" y2="57.50" stroke="#9a9a9a" stroke-width="1.4"/>
<text x="368.50" y="61.80" font-size="13" text-anchor="start" fill="#111">Isotype</text>
<line x1="342.30" y1="75.50" x2="358.50" y2="75.50" stroke="#111" stroke-width="1.4" stroke-dasharray="11.2,3.4,1.6,9"/>
<text x="368.50" y="80.30" font-size="13" text-anchor="start" fill="#111">UT</text>
<line x1="342.30" y1="95.50" x2="358.50" y2="95.50" stroke="#222" stroke-width="1.7"/>
<text x="368.50" y="100.30" font-size="13" text-anchor="start" fill="#111">24h</text>
<line x1="342.30" y1="115.50" x2="358.50" y2="115.50" stroke="#1f72c4" stroke-width="1.4"/>
<text x="368.50" y="120.30" font-size="13" text-anchor="start" fill="#111">48h</text>
<line x1="342.30" y1="135.50" x2="358.50" y2="135.50" stroke="#e0282c" stroke-width="1.4"/>
<text x="368.50" y="139.80" font-size="13" text-anchor="start" fill="#111">72h</text>
<line x1="168.50" y1="586.70" x2="266.80" y2="586.70" stroke="#111" stroke-width="1.9"/>
<polyline points="256.4,580.3 267.4,586.7 256.4,593.1" fill="none" stroke="#111" stroke-width="1.9"/>
<text x="273.40" y="591.60" font-size="12.5" text-anchor="start" fill="#111">Glut1</text>
<polygon points="190.0,189.4 197.4,188.5 200.7,180.7 205.0,165.2 209.2,146.9 210.9,130.0 213.4,120.1 215.9,95.1 217.6,75.0 218.4,73.8 219.2,74.5 220.0,77.6 220.9,78.4 222.0,80.0 222.6,88.4 223.7,128.5 225.0,153.5 227.6,171.9 230.0,183.6 232.6,188.6 234.0,189.4" fill="#bdbdbd" stroke="none"/>
<polyline points="155.6,189.2 180.0,188.6 188.0,187.5 194.0,185.4 199.0,181.6 204.1,175.7 208.4,168.1 212.6,158.8 216.0,148.6 218.5,138.5 220.2,128.0 222.2,108.0 224.2,98.4 226.7,85.1 228.4,75.9 229.8,74.3 231.0,78.7 232.5,87.0 233.4,95.1 235.1,120.1 236.8,136.8 239.3,158.5 241.8,175.2 244.3,185.2 246.8,188.6 252.0,189.4" fill="none" stroke="#111" stroke-width="1.3" stroke-dasharray="4,2.5" stroke-linejoin="round"/>
<polyline points="200.0,189.4 213.7,187.6 220.0,184.3 224.0,176.4 226.3,163.7 227.9,152.7 229.2,136.9 230.3,113.2 231.4,89.5 232.7,70.5 234.2,65.8 236.6,73.7 238.2,89.5 239.8,110.0 241.3,132.1 242.9,152.7 245.3,173.2 248.5,185.9 252.0,188.6 256.0,189.2 262.0,189.4" fill="none" stroke="#111" stroke-width="1.25" stroke-linejoin="round"/>
<polyline points="155.5,189.4 190.0,189.0 199.5,186.6 207.4,182.7 213.7,174.8 216.9,165.3 219.2,152.7 220.8,138.5 222.4,125.8 223.5,113.2 224.8,97.4 226.0,86.3 227.6,75.3 229.3,62.6 231.1,65.8 232.7,72.1 234.2,81.6 235.8,87.9 237.4,95.8 239.0,102.1 240.6,108.5 242.9,114.8 245.3,114.8 248.4,113.4 250.0,115.1 252.5,111.8 254.2,113.4 256.7,110.9 258.3,118.5 260.9,125.1 263.4,131.8 265.0,141.8 266.7,153.5 269.2,161.9 271.7,171.9 274.2,180.2 277.5,186.9 281.7,189.4 331.6,189.5" fill="none" stroke="#1f6fbf" stroke-width="1.3" stroke-linejoin="round"/>
<polyline points="155.5,189.4 200.7,189.2 209.2,188.4 216.0,185.8 220.2,180.7 222.7,172.3 225.3,162.1 227.0,157.1 228.4,153.5 230.9,145.2 233.4,137.7 235.9,140.2 238.4,136.0 241.8,130.1 244.3,122.0 246.8,111.0 249.3,100.0 251.7,88.0 253.7,74.2 255.8,80.1 257.5,73.4 259.2,68.4 260.9,65.9 262.5,71.7 264.2,83.4 265.9,98.4 267.5,115.1 269.2,130.1 271.7,145.2 274.2,158.5 276.7,168.5 280.0,175.5 283.4,181.0 287.0,185.5 290.5,188.2 295.1,189.4 331.6,189.5" fill="none" stroke="#d8272b" stroke-width="1.3" stroke-linejoin="round"/>
<polygon points="196.0,368.9 200.0,368.0 203.4,345.2 206.7,325.2 210.0,300.1 213.4,275.1 215.1,258.4 216.4,254.2 218.0,256.7 219.2,258.4 220.1,275.1 220.9,300.1 222.6,325.2 225.1,345.2 227.6,358.6 230.1,366.9 232.0,368.9" fill="#bdbdbd" stroke="none"/>
<polyline points="154.2,368.6 185.0,367.5 192.4,365.9 199.5,362.7 205.0,356.4 209.7,348.5 213.7,332.7 216.1,316.9 218.4,301.1 220.0,285.3 221.6,269.5 224.0,255.3 226.0,249.0 227.6,245.5 228.7,250.0 229.2,258.4 230.1,280.1 231.8,300.1 233.4,320.2 235.1,338.5 236.8,355.2 238.4,365.2 240.1,368.6 245.0,368.9" fill="none" stroke="#111" stroke-width="1.3" stroke-dasharray="4,2.5" stroke-linejoin="round"/>
<polyline points="190.0,368.9 202.6,365.9 209.0,361.1 212.9,353.2 216.1,340.6 218.4,324.8 220.0,309.0 221.6,293.2 223.2,277.4 224.8,261.6 226.0,257.0 227.1,256.0 228.4,258.4 230.1,268.4 231.8,280.1 233.4,295.1 235.1,308.5 236.8,321.8 238.4,335.2 240.1,348.5 242.6,360.2 245.9,366.9 250.1,368.9 258.0,368.9" fill="none" stroke="#111" stroke-width="1.25" stroke-linejoin="round"/>
<polyline points="154.0,368.9 190.0,368.6 199.5,366.4 205.0,364.0 209.0,361.1 213.7,353.2 216.9,340.6 219.2,324.8 221.6,309.0 224.0,293.2 226.3,277.4 227.9,265.0 228.7,263.4 230.1,266.7 231.8,273.4 233.4,278.4 235.1,275.1 237.6,270.9 239.3,273.4 240.9,278.4 242.6,266.7 244.3,256.7 245.9,253.4 247.6,248.4 249.3,243.4 250.6,244.5 252.0,248.4 253.3,258.4 255.0,275.1 256.7,286.8 258.0,296.8 259.2,311.8 260.9,328.5 263.4,345.2 265.9,356.9 269.2,364.4 273.4,367.7 278.4,368.9 329.2,369.0" fill="none" stroke="#1f6fbf" stroke-width="1.3" stroke-linejoin="round"/>
<polyline points="154.0,368.9 188.3,368.6 205.0,366.9 213.4,363.6 218.4,358.6 222.6,348.5 225.9,338.5 229.2,325.2 232.6,311.8 235.9,298.5 238.4,286.8 240.1,278.4 241.8,268.4 243.1,255.0 244.3,246.7 245.9,245.0 247.6,245.9 248.8,250.0 250.1,262.0 251.3,275.1 252.5,295.1 254.2,313.5 255.8,328.5 258.3,345.2 261.7,358.6 265.9,365.2 271.7,368.2 278.4,368.9 329.2,369.0" fill="none" stroke="#d8272b" stroke-width="1.3" stroke-linejoin="round"/>
<polygon points="188.0,544.6 193.0,543.6 199.0,536.9 203.5,526.9 206.5,513.5 209.5,493.5 211.6,470.1 213.6,446.7 215.2,431.7 216.1,430.5 217.6,432.6 218.7,435.1 220.3,450.1 222.0,475.1 224.4,500.2 226.5,520.2 229.0,535.2 231.5,542.7 233.5,544.6" fill="#bdbdbd" stroke="none"/>
<polyline points="154.0,544.4 196.7,542.7 205.0,539.4 210.0,535.2 213.4,528.5 216.7,516.9 220.1,500.2 222.6,480.1 224.2,463.4 225.9,446.7 227.6,433.4 229.2,423.4 230.9,419.2 232.6,418.4 234.3,421.7 235.9,430.0 237.6,443.4 239.3,463.4 240.9,483.5 242.6,503.5 244.3,520.2 245.9,533.6 247.6,541.1 250.1,543.6 254.0,544.6" fill="none" stroke="#111" stroke-width="1.3" stroke-dasharray="4,2.5" stroke-linejoin="round"/>
<polyline points="190.0,544.6 205.0,542.7 213.4,536.9 218.4,528.5 222.6,516.9 225.9,500.2 228.4,483.5 230.9,466.8 233.1,450.1 234.8,436.7 236.4,425.0 238.1,416.7 239.8,415.4 241.4,418.4 243.1,430.0 244.8,450.1 246.4,471.8 248.1,493.5 249.8,513.5 251.7,533.6 253.3,541.9 256.7,544.4 262.0,544.6" fill="none" stroke="#111" stroke-width="1.25" stroke-linejoin="round"/>
<polyline points="154.0,544.6 205.0,543.9 216.7,540.2 223.4,531.9 228.4,520.2 231.8,503.5 234.3,486.8 236.4,470.1 238.4,453.4 240.1,438.4 241.8,428.4 243.1,423.4 244.3,420.9 245.6,417.5 246.8,421.7 248.4,431.7 250.1,438.4 251.7,455.1 253.3,471.8 255.0,486.8 257.5,500.2 260.0,515.2 262.5,526.9 265.0,533.6 268.4,539.4 273.4,542.7 280.0,544.4 328.7,544.6" fill="none" stroke="#1f6fbf" stroke-width="1.3" stroke-linejoin="round"/>
<polyline points="154.0,541.5 155.8,541.0 157.0,544.6 180.0,544.5 196.7,541.9 210.0,538.6 218.4,531.9 223.4,521.9 226.7,510.2 230.1,493.5 232.6,476.8 234.8,460.1 236.8,443.4 238.4,430.0 240.1,421.7 241.4,419.2 243.1,423.4 244.8,436.7 246.4,453.4 248.1,470.1 250.0,485.1 251.7,500.2 254.2,513.5 256.7,523.5 260.0,531.0 262.5,533.6 265.0,536.9 268.4,539.4 273.4,542.7 280.0,544.4 328.7,544.6" fill="none" stroke="#d8272b" stroke-width="1.3" stroke-linejoin="round"/>
<line x1="155.8" y1="84" x2="155.8" y2="189" stroke="#111" stroke-width="1.0" stroke-dasharray="3.5,3"/>
<polygon points="153.9,369 153.9,362 155.8,362.5 156.6,369" fill="#bdbdbd"/>
<line x1="154.8" y1="343" x2="154.8" y2="368" stroke="#111" stroke-width="1.1" stroke-dasharray="3.5,3"/>
<line x1="154.2" y1="528" x2="154.2" y2="544" stroke="#111" stroke-width="1.1" stroke-dasharray="3,2"/>
<rect x="130.9" y="652.5" width="306.6" height="154.5" fill="none" stroke="#111" stroke-width="1.2"/>
<line x1="125.40" y1="807.50" x2="130.90" y2="807.50" stroke="#111" stroke-width="1.2"/>
<text x="119.80" y="811.50" font-size="12.8" text-anchor="end" fill="#111">0</text>
<line x1="125.40" y1="781.50" x2="130.90" y2="781.50" stroke="#111" stroke-width="1.2"/>
<text x="119.80" y="785.75" font-size="12.8" text-anchor="end" fill="#111">1</text>
<line x1="125.40" y1="755.50" x2="130.90" y2="755.50" stroke="#111" stroke-width="1.2"/>
<text x="119.80" y="760.00" font-size="12.8" text-anchor="end" fill="#111">2</text>
<line x1="125.40" y1="729.50" x2="130.90" y2="729.50" stroke="#111" stroke-width="1.2"/>
<text x="119.80" y="734.25" font-size="12.8" text-anchor="end" fill="#111">3</text>
<line x1="125.40" y1="704.50" x2="130.90" y2="704.50" stroke="#111" stroke-width="1.2"/>
<text x="119.80" y="708.50" font-size="12.8" text-anchor="end" fill="#111">4</text>
<line x1="125.40" y1="678.50" x2="130.90" y2="678.50" stroke="#111" stroke-width="1.2"/>
<text x="119.80" y="682.75" font-size="12.8" text-anchor="end" fill="#111">5</text>
<line x1="125.40" y1="652.50" x2="130.90" y2="652.50" stroke="#111" stroke-width="1.2"/>
<text x="119.80" y="657.00" font-size="12.8" text-anchor="end" fill="#111">6</text>
<line x1="130.50" y1="807.00" x2="130.50" y2="812.50" stroke="#111" stroke-width="1.2"/>
<line x1="191.50" y1="807.00" x2="191.50" y2="812.50" stroke="#111" stroke-width="1.2"/>
<line x1="253.50" y1="807.00" x2="253.50" y2="812.50" stroke="#111" stroke-width="1.2"/>
<line x1="314.50" y1="807.00" x2="314.50" y2="812.50" stroke="#111" stroke-width="1.2"/>
<line x1="376.50" y1="807.00" x2="376.50" y2="812.50" stroke="#111" stroke-width="1.2"/>
<line x1="437.50" y1="807.00" x2="437.50" y2="812.50" stroke="#111" stroke-width="1.2"/>
<text x="285.40" y="642.30" font-size="13" text-anchor="middle" fill="#111">Lactate</text>
<text transform="translate(454.3,729.5) rotate(-90)" font-size="13" text-anchor="middle" fill="#111">Scaled intensity</text>
<rect x="166.50" y="775.50" width="51.00" height="11.00" fill="#ffffff" stroke="#111" stroke-width="1.2"/>
<line x1="166.40" y1="780.50" x2="217.60" y2="780.50" stroke="#111" stroke-width="1.2"/>
<line x1="253.50" y1="691.30" x2="253.50" y2="679.70" stroke="#111" stroke-width="1.1"/>
<line x1="250.40" y1="679.50" x2="257.40" y2="679.50" stroke="#111" stroke-width="1.2"/>
<line x1="253.50" y1="701.30" x2="253.50" y2="712.90" stroke="#111" stroke-width="1.1"/>
<line x1="250.40" y1="712.50" x2="257.40" y2="712.50" stroke="#111" stroke-width="1.2"/>
<rect x="228.50" y="691.50" width="51.00" height="10.00" fill="#a9a9a9" stroke="#111" stroke-width="1.2"/>
<line x1="228.20" y1="694.50" x2="279.60" y2="694.50" stroke="#111" stroke-width="1.2"/>
<polygon points="254.20,662.50 257.18,666.00 254.20,669.50 251.22,666.00" fill="#111"/>
<rect x="289.50" y="776.50" width="51.00" height="10.00" fill="#21477e" stroke="#111" stroke-width="1.2"/>
<line x1="289.40" y1="779.50" x2="340.80" y2="779.50" stroke="#111" stroke-width="1.2"/>
<path d="M314.30,763.40L314.30,761.10M314.30,763.40L316.49,762.69M314.30,763.40L315.65,765.26M314.30,763.40L312.95,765.26M314.30,763.40L312.11,762.69" stroke="#111" stroke-width="1.15" stroke-linecap="round" fill="none"/>
<line x1="376.50" y1="752.70" x2="376.50" y2="750.80" stroke="#111" stroke-width="1.1"/>
<line x1="372.90" y1="750.50" x2="379.90" y2="750.50" stroke="#111" stroke-width="1.2"/>
<line x1="376.50" y1="763.40" x2="376.50" y2="765.30" stroke="#111" stroke-width="1.1"/>
<line x1="372.90" y1="765.50" x2="379.90" y2="765.50" stroke="#111" stroke-width="1.2"/>
<rect x="350.50" y="752.50" width="52.00" height="11.00" fill="#8bb0e3" stroke="#111" stroke-width="1.2"/>
<line x1="350.65" y1="758.50" x2="402.15" y2="758.50" stroke="#111" stroke-width="1.2"/>
<path d="M377.50,739.70L377.50,737.40M377.50,739.70L379.69,738.99M377.50,739.70L378.85,741.56M377.50,739.70L376.15,741.56M377.50,739.70L375.31,738.99" stroke="#111" stroke-width="1.15" stroke-linecap="round" fill="none"/>
<text x="192.90" y="835.70" font-size="13" text-anchor="middle" fill="#111">UT</text>
<text x="242.9" y="835.8" font-size="13.5" fill="#111">T<tspan font-size="10.5" dy="4.3">CC</tspan></text>
<g transform="translate(319.80,821.50) rotate(-45)"><text x="-89.49" y="0" font-size="13.2" fill="#111">Tpr4hr</text><path d="M-46.11,-3.30H-34.40M-37.04,-6.53L-34.40,-3.30L-37.04,-0.07" fill="none" stroke="#111" stroke-width="1.0"/><text x="-30.07" y="0" font-size="13.2" fill="#111">PD-1</text></g>
<g transform="translate(381.60,821.00) rotate(-45)"><text x="-92.43" y="0" font-size="13.2" fill="#111">Tpr24h</text><path d="M-46.11,-3.30H-34.40M-37.04,-6.53L-34.40,-3.30L-37.04,-0.07" fill="none" stroke="#111" stroke-width="1.0"/><text x="-30.07" y="0" font-size="13.2" fill="#111">PD-1</text></g>
<rect x="575.5" y="645.9" width="296.00" height="162.60" fill="none" stroke="#111" stroke-width="1.2"/>
<line x1="570.00" y1="808.50" x2="575.50" y2="808.50" stroke="#111" stroke-width="1.2"/>
<text x="562.00" y="813.00" font-size="12.8" text-anchor="end" fill="#111">0.5</text>
<line x1="570.00" y1="767.50" x2="575.50" y2="767.50" stroke="#111" stroke-width="1.2"/>
<text x="562.00" y="772.35" font-size="12.8" text-anchor="end" fill="#111">1</text>
<line x1="570.00" y1="727.50" x2="575.50" y2="727.50" stroke="#111" stroke-width="1.2"/>
<text x="562.00" y="731.70" font-size="12.8" text-anchor="end" fill="#111">1.5</text>
<line x1="570.00" y1="686.50" x2="575.50" y2="686.50" stroke="#111" stroke-width="1.2"/>
<text x="562.00" y="691.05" font-size="12.8" text-anchor="end" fill="#111">2</text>
<line x1="570.00" y1="645.50" x2="575.50" y2="645.50" stroke="#111" stroke-width="1.2"/>
<text x="562.00" y="650.40" font-size="12.8" text-anchor="end" fill="#111">2.5</text>
<line x1="575.50" y1="808.50" x2="575.50" y2="814.00" stroke="#111" stroke-width="1.2"/>
<line x1="634.50" y1="808.50" x2="634.50" y2="814.00" stroke="#111" stroke-width="1.2"/>
<line x1="693.50" y1="808.50" x2="693.50" y2="814.00" stroke="#111" stroke-width="1.2"/>
<line x1="752.50" y1="808.50" x2="752.50" y2="814.00" stroke="#111" stroke-width="1.2"/>
<line x1="811.50" y1="808.50" x2="811.50" y2="814.00" stroke="#111" stroke-width="1.2"/>
<line x1="871.50" y1="808.50" x2="871.50" y2="814.00" stroke="#111" stroke-width="1.2"/>
<text x="723.00" y="638.00" font-size="13" text-anchor="middle" fill="#111">3-hydroxybutyrate (BHBA)</text>
<text transform="translate(888.2,726) rotate(-90)" font-size="13" text-anchor="middle" fill="#111">Scaled intensity</text>
<line x1="634.50" y1="762.50" x2="634.50" y2="759.60" stroke="#111" stroke-width="1.1"/>
<line x1="631.50" y1="759.50" x2="637.50" y2="759.50" stroke="#111" stroke-width="1.2"/>
<line x1="634.50" y1="772.90" x2="634.50" y2="776.00" stroke="#111" stroke-width="1.1"/>
<line x1="631.50" y1="776.50" x2="637.50" y2="776.50" stroke="#111" stroke-width="1.2"/>
<rect x="608.50" y="762.50" width="52.00" height="10.00" fill="#ffffff" stroke="#111" stroke-width="1.2"/>
<line x1="608.90" y1="769.50" x2="660.10" y2="769.50" stroke="#111" stroke-width="1.2"/>
<line x1="693.50" y1="769.70" x2="693.50" y2="768.80" stroke="#111" stroke-width="1.1"/>
<line x1="690.90" y1="768.50" x2="696.90" y2="768.50" stroke="#111" stroke-width="1.2"/>
<line x1="693.50" y1="781.10" x2="693.50" y2="783.30" stroke="#111" stroke-width="1.1"/>
<line x1="690.90" y1="783.50" x2="696.90" y2="783.50" stroke="#111" stroke-width="1.2"/>
<rect x="668.50" y="769.50" width="51.00" height="12.00" fill="#a9a9a9" stroke="#111" stroke-width="1.2"/>
<line x1="668.35" y1="770.50" x2="719.45" y2="770.50" stroke="#111" stroke-width="1.2"/>
<line x1="753.50" y1="705.60" x2="753.50" y2="697.10" stroke="#111" stroke-width="1.1"/>
<line x1="749.50" y1="697.50" x2="756.50" y2="697.50" stroke="#111" stroke-width="1.2"/>
<line x1="753.50" y1="716.00" x2="753.50" y2="724.60" stroke="#111" stroke-width="1.1"/>
<line x1="749.50" y1="724.50" x2="756.50" y2="724.50" stroke="#111" stroke-width="1.2"/>
<rect x="727.50" y="705.50" width="51.00" height="11.00" fill="#21477e" stroke="#111" stroke-width="1.2"/>
<line x1="727.45" y1="708.50" x2="778.55" y2="708.50" stroke="#111" stroke-width="1.2"/>
<polygon points="753.40,683.20 756.38,686.70 753.40,690.20 750.42,686.70" fill="#111"/>
<path d="M753.40,666.50L753.40,664.20M753.40,666.50L755.59,665.79M753.40,666.50L754.75,668.36M753.40,666.50L752.05,668.36M753.40,666.50L751.21,665.79" stroke="#111" stroke-width="1.15" stroke-linecap="round" fill="none"/>
<line x1="812.50" y1="730.30" x2="812.50" y2="723.90" stroke="#111" stroke-width="1.1"/>
<line x1="808.60" y1="723.50" x2="815.60" y2="723.50" stroke="#111" stroke-width="1.2"/>
<line x1="812.50" y1="740.40" x2="812.50" y2="746.40" stroke="#111" stroke-width="1.1"/>
<line x1="808.60" y1="746.50" x2="815.60" y2="746.50" stroke="#111" stroke-width="1.2"/>
<rect x="786.50" y="730.50" width="51.00" height="10.00" fill="#8bb0e3" stroke="#111" stroke-width="1.2"/>
<line x1="786.50" y1="734.50" x2="837.70" y2="734.50" stroke="#111" stroke-width="1.2"/>
<polygon points="811.80,704.60 814.77,708.10 811.80,711.60 808.82,708.10" fill="#111"/>
<path d="M811.80,688.30L811.80,686.00M811.80,688.30L813.99,687.59M811.80,688.30L813.15,690.16M811.80,688.30L810.45,690.16M811.80,688.30L809.61,687.59" stroke="#111" stroke-width="1.15" stroke-linecap="round" fill="none"/>
<text x="635.00" y="838.90" font-size="13" text-anchor="middle" fill="#111">UT</text>
<text x="684.1" y="838.4" font-size="13.5" fill="#111">T<tspan font-size="10.5" dy="4.3">CC</tspan></text>
<g transform="translate(756.10,830.70) rotate(-45)"><text x="-89.49" y="0" font-size="13.2" fill="#111">Tpr4hr</text><path d="M-46.11,-3.30H-34.40M-37.04,-6.53L-34.40,-3.30L-37.04,-0.07" fill="none" stroke="#111" stroke-width="1.0"/><text x="-30.07" y="0" font-size="13.2" fill="#111">PD-1</text></g>
<g transform="translate(816.60,832.20) rotate(-45)"><text x="-92.43" y="0" font-size="13.2" fill="#111">Tpr24h</text><path d="M-46.11,-3.30H-34.40M-37.04,-6.53L-34.40,-3.30L-37.04,-0.07" fill="none" stroke="#111" stroke-width="1.0"/><text x="-30.07" y="0" font-size="13.2" fill="#111">PD-1</text></g>
</svg></body></html>
